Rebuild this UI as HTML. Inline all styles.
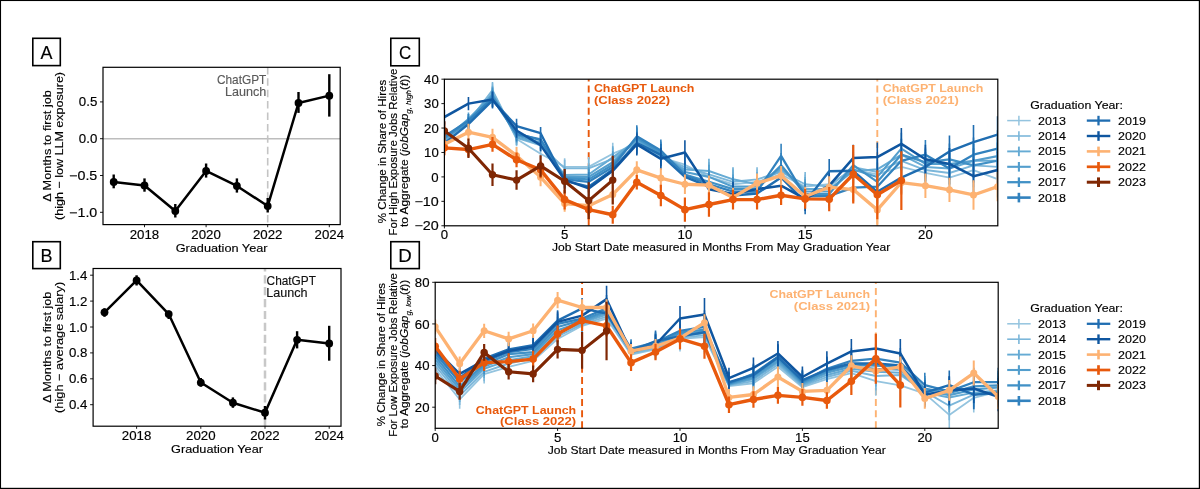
<!DOCTYPE html>
<html><head><meta charset="utf-8"><style>
html,body{margin:0;padding:0;background:#fff;width:1200px;height:489px;overflow:hidden}
svg{display:block;will-change:transform}
text{font-family:"Liberation Sans", sans-serif}
</style></head><body>
<svg width="1200" height="489" viewBox="0 0 1200 489">
<rect x="0" y="0" width="1200" height="489" fill="#fff"/>
<rect x="0" y="0" width="1200" height="1.05" fill="#000"/><rect x="0" y="0" width="1.05" height="489" fill="#000"/>
<rect x="1198.8" y="0" width="1.2" height="489" fill="#000"/><rect x="0" y="487.8" width="1200" height="1.2" fill="#000"/>
<rect x="32.80" y="38.30" width="27.50" height="27.30" fill="none" stroke="#000" stroke-width="1.6"/>
<text x="46.55" y="59.25" font-size="18.38" text-anchor="middle" fill="#000" stroke="#000" stroke-width="0.15" textLength="11.97" lengthAdjust="spacingAndGlyphs" >A</text>
<rect x="32.80" y="241.70" width="27.50" height="26.90" fill="none" stroke="#000" stroke-width="1.6"/>
<text x="46.55" y="262.45" font-size="18.38" text-anchor="middle" fill="#000" stroke="#000" stroke-width="0.15" textLength="12.01" lengthAdjust="spacingAndGlyphs" >B</text>
<rect x="390.80" y="38.30" width="28.50" height="27.50" fill="none" stroke="#000" stroke-width="1.6"/>
<text x="405.05" y="59.35" font-size="18.38" text-anchor="middle" fill="#000" stroke="#000" stroke-width="0.15" textLength="12.22" lengthAdjust="spacingAndGlyphs" >C</text>
<rect x="390.80" y="241.70" width="28.50" height="26.90" fill="none" stroke="#000" stroke-width="1.6"/>
<text x="405.05" y="262.45" font-size="18.38" text-anchor="middle" fill="#000" stroke="#000" stroke-width="0.15" textLength="13.48" lengthAdjust="spacingAndGlyphs" >D</text>
<line x1="103.00" y1="138.70" x2="340.20" y2="138.70" stroke="#bdbdbd" stroke-width="1.5" />
<line x1="267.70" y1="224.60" x2="267.70" y2="67.30" stroke="#c4c4c4" stroke-width="1.6" stroke-dasharray="7.5 3.9" stroke-dashoffset="-2"/>
<text x="266.30" y="83.90" font-size="11.97" text-anchor="end" fill="#5a5a5a" stroke="#5a5a5a" stroke-width="0.15" textLength="49.31" lengthAdjust="spacingAndGlyphs" >ChatGPT</text>
<text x="266.30" y="96.30" font-size="11.97" text-anchor="end" fill="#5a5a5a" stroke="#5a5a5a" stroke-width="0.15" textLength="41.28" lengthAdjust="spacingAndGlyphs" >Launch</text>
<line x1="113.70" y1="174.50" x2="113.70" y2="188.30" stroke="#000" stroke-width="2.4" />
<line x1="144.50" y1="178.40" x2="144.50" y2="191.70" stroke="#000" stroke-width="2.4" />
<line x1="175.30" y1="204.00" x2="175.30" y2="217.50" stroke="#000" stroke-width="2.4" />
<line x1="206.10" y1="163.50" x2="206.10" y2="177.60" stroke="#000" stroke-width="2.4" />
<line x1="236.90" y1="178.40" x2="236.90" y2="192.60" stroke="#000" stroke-width="2.4" />
<line x1="267.70" y1="198.00" x2="267.70" y2="212.50" stroke="#000" stroke-width="2.4" />
<line x1="298.50" y1="92.00" x2="298.50" y2="112.90" stroke="#000" stroke-width="2.4" />
<line x1="329.30" y1="74.20" x2="329.30" y2="116.60" stroke="#000" stroke-width="2.4" />
<polyline points="113.70,181.98 144.50,185.44 175.30,210.98 206.10,170.94 236.90,185.95 267.70,206.04 298.50,103.00 329.30,95.64" fill="none" stroke="#000" stroke-width="2.5" stroke-linejoin="round" stroke-linecap="butt" />
<circle cx="113.70" cy="181.98" r="3.9" fill="#000"/>
<circle cx="144.50" cy="185.44" r="3.9" fill="#000"/>
<circle cx="175.30" cy="210.98" r="3.9" fill="#000"/>
<circle cx="206.10" cy="170.94" r="3.9" fill="#000"/>
<circle cx="236.90" cy="185.95" r="3.9" fill="#000"/>
<circle cx="267.70" cy="206.04" r="3.9" fill="#000"/>
<circle cx="298.50" cy="103.00" r="3.9" fill="#000"/>
<circle cx="329.30" cy="95.64" r="3.9" fill="#000"/>
<rect x="103.00" y="67.30" width="237.20" height="157.30" fill="none" stroke="#000" stroke-width="1.2"/>
<line x1="100.00" y1="101.90" x2="103.00" y2="101.90" stroke="#000" stroke-width="0.9" />
<text x="97.30" y="106.40" font-size="12.18" text-anchor="end" fill="#000" stroke="#000" stroke-width="0.15" textLength="18.45" lengthAdjust="spacingAndGlyphs" >0.5</text>
<line x1="100.00" y1="138.70" x2="103.00" y2="138.70" stroke="#000" stroke-width="0.9" />
<text x="97.30" y="143.20" font-size="12.18" text-anchor="end" fill="#000" stroke="#000" stroke-width="0.15" textLength="18.45" lengthAdjust="spacingAndGlyphs" >0.0</text>
<line x1="100.00" y1="175.50" x2="103.00" y2="175.50" stroke="#000" stroke-width="0.9" />
<text x="97.30" y="180.00" font-size="12.18" text-anchor="end" fill="#000" stroke="#000" stroke-width="0.15" textLength="28.17" lengthAdjust="spacingAndGlyphs" >−0.5</text>
<line x1="100.00" y1="212.30" x2="103.00" y2="212.30" stroke="#000" stroke-width="0.9" />
<text x="97.30" y="216.80" font-size="12.18" text-anchor="end" fill="#000" stroke="#000" stroke-width="0.15" textLength="28.17" lengthAdjust="spacingAndGlyphs" >−1.0</text>
<line x1="144.50" y1="224.60" x2="144.50" y2="227.20" stroke="#000" stroke-width="0.9" />
<text x="144.50" y="238.60" font-size="12.18" text-anchor="middle" fill="#000" stroke="#000" stroke-width="0.15" textLength="29.52" lengthAdjust="spacingAndGlyphs" >2018</text>
<line x1="206.10" y1="224.60" x2="206.10" y2="227.20" stroke="#000" stroke-width="0.9" />
<text x="206.10" y="238.60" font-size="12.18" text-anchor="middle" fill="#000" stroke="#000" stroke-width="0.15" textLength="29.52" lengthAdjust="spacingAndGlyphs" >2020</text>
<line x1="267.70" y1="224.60" x2="267.70" y2="227.20" stroke="#000" stroke-width="0.9" />
<text x="267.70" y="238.60" font-size="12.18" text-anchor="middle" fill="#000" stroke="#000" stroke-width="0.15" textLength="29.52" lengthAdjust="spacingAndGlyphs" >2022</text>
<line x1="329.30" y1="224.60" x2="329.30" y2="227.20" stroke="#000" stroke-width="0.9" />
<text x="329.30" y="238.60" font-size="12.18" text-anchor="middle" fill="#000" stroke="#000" stroke-width="0.15" textLength="29.52" lengthAdjust="spacingAndGlyphs" >2024</text>
<text x="221.60" y="252.00" font-size="11.81" text-anchor="middle" fill="#000" stroke="#000" stroke-width="0.15" textLength="91.84" lengthAdjust="spacingAndGlyphs" >Graduation Year</text>
<text x="50.80" y="145.95" font-size="11.60" text-anchor="middle" fill="#000" stroke="#000" stroke-width="0.15" textLength="111.53" lengthAdjust="spacingAndGlyphs" transform="rotate(-90 50.80 145.95)" >Δ Months to first job</text>
<text x="63.30" y="145.95" font-size="11.60" text-anchor="middle" fill="#000" stroke="#000" stroke-width="0.15" textLength="147.95" lengthAdjust="spacingAndGlyphs" transform="rotate(-90 63.30 145.95)" >(high − low LLM exposure)</text>
<line x1="265.00" y1="426.20" x2="265.00" y2="268.50" stroke="#c8c8c8" stroke-width="2.5" stroke-dasharray="8.2 3.7"/>
<text x="266.60" y="284.80" font-size="11.97" text-anchor="start" fill="#111" stroke="#111" stroke-width="0.15" textLength="49.31" lengthAdjust="spacingAndGlyphs" >ChatGPT</text>
<text x="266.30" y="296.70" font-size="11.97" text-anchor="start" fill="#111" stroke="#111" stroke-width="0.15" textLength="41.28" lengthAdjust="spacingAndGlyphs" >Launch</text>
<line x1="104.50" y1="308.20" x2="104.50" y2="316.80" stroke="#000" stroke-width="2.4" />
<line x1="136.60" y1="275.30" x2="136.60" y2="285.50" stroke="#000" stroke-width="2.4" />
<line x1="168.70" y1="310.60" x2="168.70" y2="319.00" stroke="#000" stroke-width="2.4" />
<line x1="200.80" y1="378.00" x2="200.80" y2="386.70" stroke="#000" stroke-width="2.4" />
<line x1="232.90" y1="397.40" x2="232.90" y2="407.80" stroke="#000" stroke-width="2.4" />
<line x1="265.00" y1="406.00" x2="265.00" y2="419.50" stroke="#000" stroke-width="2.4" />
<line x1="297.10" y1="331.20" x2="297.10" y2="348.40" stroke="#000" stroke-width="2.4" />
<line x1="329.20" y1="325.80" x2="329.20" y2="360.70" stroke="#000" stroke-width="2.4" />
<polyline points="104.50,312.37 136.60,280.38 168.70,314.05 200.80,382.56 232.90,402.76 265.00,412.73 297.10,339.82 329.20,343.45" fill="none" stroke="#000" stroke-width="2.5" stroke-linejoin="round" stroke-linecap="butt" />
<circle cx="104.50" cy="312.37" r="3.9" fill="#000"/>
<circle cx="136.60" cy="280.38" r="3.9" fill="#000"/>
<circle cx="168.70" cy="314.05" r="3.9" fill="#000"/>
<circle cx="200.80" cy="382.56" r="3.9" fill="#000"/>
<circle cx="232.90" cy="402.76" r="3.9" fill="#000"/>
<circle cx="265.00" cy="412.73" r="3.9" fill="#000"/>
<circle cx="297.10" cy="339.82" r="3.9" fill="#000"/>
<circle cx="329.20" cy="343.45" r="3.9" fill="#000"/>
<rect x="93.10" y="268.50" width="247.90" height="157.70" fill="none" stroke="#000" stroke-width="1.2"/>
<line x1="90.10" y1="275.20" x2="93.10" y2="275.20" stroke="#000" stroke-width="0.9" />
<text x="87.40" y="279.70" font-size="12.18" text-anchor="end" fill="#000" stroke="#000" stroke-width="0.15" textLength="18.45" lengthAdjust="spacingAndGlyphs" >1.4</text>
<line x1="90.10" y1="301.10" x2="93.10" y2="301.10" stroke="#000" stroke-width="0.9" />
<text x="87.40" y="305.60" font-size="12.18" text-anchor="end" fill="#000" stroke="#000" stroke-width="0.15" textLength="18.45" lengthAdjust="spacingAndGlyphs" >1.2</text>
<line x1="90.10" y1="327.00" x2="93.10" y2="327.00" stroke="#000" stroke-width="0.9" />
<text x="87.40" y="331.50" font-size="12.18" text-anchor="end" fill="#000" stroke="#000" stroke-width="0.15" textLength="18.45" lengthAdjust="spacingAndGlyphs" >1.0</text>
<line x1="90.10" y1="352.90" x2="93.10" y2="352.90" stroke="#000" stroke-width="0.9" />
<text x="87.40" y="357.40" font-size="12.18" text-anchor="end" fill="#000" stroke="#000" stroke-width="0.15" textLength="18.45" lengthAdjust="spacingAndGlyphs" >0.8</text>
<line x1="90.10" y1="378.80" x2="93.10" y2="378.80" stroke="#000" stroke-width="0.9" />
<text x="87.40" y="383.30" font-size="12.18" text-anchor="end" fill="#000" stroke="#000" stroke-width="0.15" textLength="18.45" lengthAdjust="spacingAndGlyphs" >0.6</text>
<line x1="90.10" y1="404.70" x2="93.10" y2="404.70" stroke="#000" stroke-width="0.9" />
<text x="87.40" y="409.20" font-size="12.18" text-anchor="end" fill="#000" stroke="#000" stroke-width="0.15" textLength="18.45" lengthAdjust="spacingAndGlyphs" >0.4</text>
<line x1="136.60" y1="426.20" x2="136.60" y2="428.80" stroke="#000" stroke-width="0.9" />
<text x="136.60" y="440.20" font-size="12.18" text-anchor="middle" fill="#000" stroke="#000" stroke-width="0.15" textLength="29.52" lengthAdjust="spacingAndGlyphs" >2018</text>
<line x1="200.80" y1="426.20" x2="200.80" y2="428.80" stroke="#000" stroke-width="0.9" />
<text x="200.80" y="440.20" font-size="12.18" text-anchor="middle" fill="#000" stroke="#000" stroke-width="0.15" textLength="29.52" lengthAdjust="spacingAndGlyphs" >2020</text>
<line x1="265.00" y1="426.20" x2="265.00" y2="428.80" stroke="#000" stroke-width="0.9" />
<text x="265.00" y="440.20" font-size="12.18" text-anchor="middle" fill="#000" stroke="#000" stroke-width="0.15" textLength="29.52" lengthAdjust="spacingAndGlyphs" >2022</text>
<line x1="329.20" y1="426.20" x2="329.20" y2="428.80" stroke="#000" stroke-width="0.9" />
<text x="329.20" y="440.20" font-size="12.18" text-anchor="middle" fill="#000" stroke="#000" stroke-width="0.15" textLength="29.52" lengthAdjust="spacingAndGlyphs" >2024</text>
<text x="217.05" y="453.20" font-size="11.81" text-anchor="middle" fill="#000" stroke="#000" stroke-width="0.15" textLength="91.84" lengthAdjust="spacingAndGlyphs" >Graduation Year</text>
<text x="50.80" y="347.35" font-size="11.60" text-anchor="middle" fill="#000" stroke="#000" stroke-width="0.15" textLength="111.53" lengthAdjust="spacingAndGlyphs" transform="rotate(-90 50.80 347.35)" >Δ Months to first job</text>
<text x="63.30" y="347.35" font-size="11.60" text-anchor="middle" fill="#000" stroke="#000" stroke-width="0.15" textLength="131.20" lengthAdjust="spacingAndGlyphs" transform="rotate(-90 63.30 347.35)" >(high − average salary)</text>
<defs><clipPath id="clipC"><rect x="444.4" y="79.2" width="553.4" height="146.60000000000002"/></clipPath><clipPath id="clipD"><rect x="435.2" y="282.3" width="563.0" height="146.0"/></clipPath></defs>
<line x1="588.70" y1="225.80" x2="588.70" y2="79.20" stroke="#e8590c" stroke-width="1.9" stroke-dasharray="7 4.1"/>
<line x1="877.30" y1="225.80" x2="877.30" y2="79.20" stroke="#fdb272" stroke-width="1.9" stroke-dasharray="7 4.1"/>
<g clip-path="url(#clipC)">
<line x1="444.40" y1="135.37" x2="444.40" y2="150.03" stroke="#94c4df" stroke-width="1.6" />
<line x1="468.45" y1="116.56" x2="468.45" y2="129.75" stroke="#94c4df" stroke-width="1.6" />
<line x1="492.50" y1="83.33" x2="492.50" y2="99.46" stroke="#94c4df" stroke-width="1.6" />
<line x1="516.55" y1="131.70" x2="516.55" y2="146.36" stroke="#94c4df" stroke-width="1.6" />
<line x1="540.60" y1="147.58" x2="540.60" y2="159.80" stroke="#94c4df" stroke-width="1.6" />
<line x1="564.65" y1="158.33" x2="564.65" y2="175.43" stroke="#94c4df" stroke-width="1.6" />
<line x1="588.70" y1="157.11" x2="588.70" y2="176.66" stroke="#94c4df" stroke-width="1.6" />
<line x1="612.75" y1="142.70" x2="612.75" y2="164.69" stroke="#94c4df" stroke-width="1.6" />
<line x1="636.80" y1="132.93" x2="636.80" y2="154.91" stroke="#94c4df" stroke-width="1.6" />
<line x1="660.85" y1="146.36" x2="660.85" y2="168.35" stroke="#94c4df" stroke-width="1.6" />
<line x1="684.90" y1="152.47" x2="684.90" y2="176.90" stroke="#94c4df" stroke-width="1.6" />
<line x1="708.95" y1="164.69" x2="708.95" y2="189.12" stroke="#94c4df" stroke-width="1.6" />
<line x1="733.00" y1="172.01" x2="733.00" y2="196.44" stroke="#94c4df" stroke-width="1.6" />
<line x1="757.05" y1="169.57" x2="757.05" y2="194.00" stroke="#94c4df" stroke-width="1.6" />
<line x1="781.10" y1="162.24" x2="781.10" y2="186.67" stroke="#94c4df" stroke-width="1.6" />
<line x1="805.15" y1="174.46" x2="805.15" y2="198.89" stroke="#94c4df" stroke-width="1.6" />
<line x1="829.20" y1="172.01" x2="829.20" y2="196.44" stroke="#94c4df" stroke-width="1.6" />
<line x1="853.25" y1="156.13" x2="853.25" y2="183.01" stroke="#94c4df" stroke-width="1.6" />
<line x1="877.30" y1="159.80" x2="877.30" y2="189.12" stroke="#94c4df" stroke-width="1.6" />
<line x1="901.35" y1="151.00" x2="901.35" y2="182.76" stroke="#94c4df" stroke-width="1.6" />
<line x1="925.40" y1="158.33" x2="925.40" y2="187.65" stroke="#94c4df" stroke-width="1.6" />
<line x1="949.45" y1="161.75" x2="949.45" y2="193.51" stroke="#94c4df" stroke-width="1.6" />
<line x1="973.50" y1="152.96" x2="973.50" y2="187.16" stroke="#94c4df" stroke-width="1.6" />
<line x1="997.55" y1="160.78" x2="997.55" y2="197.42" stroke="#94c4df" stroke-width="1.6" />
<polyline points="444.40,142.70 468.45,123.15 492.50,91.40 516.55,139.03 540.60,153.69 564.65,166.88 588.70,166.88 612.75,153.69 636.80,143.92 660.85,157.36 684.90,164.69 708.95,176.90 733.00,184.23 757.05,181.79 781.10,174.46 805.15,186.67 829.20,184.23 853.25,169.57 877.30,174.46 901.35,166.88 925.40,172.99 949.45,177.63 973.50,170.06 997.55,179.10" fill="none" stroke="#94c4df" stroke-width="1.8" stroke-linejoin="round" stroke-linecap="butt" />
<line x1="444.40" y1="132.93" x2="444.40" y2="147.58" stroke="#7cb7da" stroke-width="1.6" />
<line x1="468.45" y1="115.34" x2="468.45" y2="128.53" stroke="#7cb7da" stroke-width="1.6" />
<line x1="492.50" y1="82.11" x2="492.50" y2="98.24" stroke="#7cb7da" stroke-width="1.6" />
<line x1="516.55" y1="130.48" x2="516.55" y2="145.14" stroke="#7cb7da" stroke-width="1.6" />
<line x1="540.60" y1="139.28" x2="540.60" y2="151.49" stroke="#7cb7da" stroke-width="1.6" />
<line x1="564.65" y1="159.80" x2="564.65" y2="176.90" stroke="#7cb7da" stroke-width="1.6" />
<line x1="588.70" y1="158.58" x2="588.70" y2="178.12" stroke="#7cb7da" stroke-width="1.6" />
<line x1="612.75" y1="147.83" x2="612.75" y2="169.82" stroke="#7cb7da" stroke-width="1.6" />
<line x1="636.80" y1="131.70" x2="636.80" y2="153.69" stroke="#7cb7da" stroke-width="1.6" />
<line x1="660.85" y1="145.14" x2="660.85" y2="167.13" stroke="#7cb7da" stroke-width="1.6" />
<line x1="684.90" y1="154.91" x2="684.90" y2="179.34" stroke="#7cb7da" stroke-width="1.6" />
<line x1="708.95" y1="162.24" x2="708.95" y2="186.67" stroke="#7cb7da" stroke-width="1.6" />
<line x1="733.00" y1="169.57" x2="733.00" y2="194.00" stroke="#7cb7da" stroke-width="1.6" />
<line x1="757.05" y1="167.13" x2="757.05" y2="191.56" stroke="#7cb7da" stroke-width="1.6" />
<line x1="781.10" y1="159.80" x2="781.10" y2="184.23" stroke="#7cb7da" stroke-width="1.6" />
<line x1="805.15" y1="172.01" x2="805.15" y2="196.44" stroke="#7cb7da" stroke-width="1.6" />
<line x1="829.20" y1="174.46" x2="829.20" y2="198.89" stroke="#7cb7da" stroke-width="1.6" />
<line x1="853.25" y1="153.69" x2="853.25" y2="180.56" stroke="#7cb7da" stroke-width="1.6" />
<line x1="877.30" y1="157.36" x2="877.30" y2="186.67" stroke="#7cb7da" stroke-width="1.6" />
<line x1="901.35" y1="144.90" x2="901.35" y2="176.66" stroke="#7cb7da" stroke-width="1.6" />
<line x1="925.40" y1="155.40" x2="925.40" y2="184.72" stroke="#7cb7da" stroke-width="1.6" />
<line x1="949.45" y1="157.11" x2="949.45" y2="188.87" stroke="#7cb7da" stroke-width="1.6" />
<line x1="973.50" y1="148.32" x2="973.50" y2="182.52" stroke="#7cb7da" stroke-width="1.6" />
<line x1="997.55" y1="148.56" x2="997.55" y2="185.21" stroke="#7cb7da" stroke-width="1.6" />
<polyline points="444.40,140.25 468.45,121.93 492.50,90.17 516.55,137.81 540.60,145.39 564.65,168.35 588.70,168.35 612.75,158.82 636.80,142.70 660.85,156.13 684.90,167.13 708.95,174.46 733.00,181.79 757.05,179.34 781.10,172.01 805.15,184.23 829.20,186.67 853.25,167.13 877.30,172.01 901.35,160.78 925.40,170.06 949.45,172.99 973.50,165.42 997.55,166.88" fill="none" stroke="#7cb7da" stroke-width="1.9" stroke-linejoin="round" stroke-linecap="butt" />
<line x1="444.40" y1="134.15" x2="444.40" y2="148.81" stroke="#66abd4" stroke-width="1.6" />
<line x1="468.45" y1="114.11" x2="468.45" y2="127.31" stroke="#66abd4" stroke-width="1.6" />
<line x1="492.50" y1="85.78" x2="492.50" y2="101.90" stroke="#66abd4" stroke-width="1.6" />
<line x1="516.55" y1="129.99" x2="516.55" y2="144.65" stroke="#66abd4" stroke-width="1.6" />
<line x1="540.60" y1="137.81" x2="540.60" y2="150.03" stroke="#66abd4" stroke-width="1.6" />
<line x1="564.65" y1="166.40" x2="564.65" y2="183.50" stroke="#66abd4" stroke-width="1.6" />
<line x1="588.70" y1="164.69" x2="588.70" y2="184.23" stroke="#66abd4" stroke-width="1.6" />
<line x1="612.75" y1="146.36" x2="612.75" y2="168.35" stroke="#66abd4" stroke-width="1.6" />
<line x1="636.80" y1="129.26" x2="636.80" y2="151.25" stroke="#66abd4" stroke-width="1.6" />
<line x1="660.85" y1="143.92" x2="660.85" y2="165.91" stroke="#66abd4" stroke-width="1.6" />
<line x1="684.90" y1="157.36" x2="684.90" y2="181.79" stroke="#66abd4" stroke-width="1.6" />
<line x1="708.95" y1="158.82" x2="708.95" y2="183.25" stroke="#66abd4" stroke-width="1.6" />
<line x1="733.00" y1="167.13" x2="733.00" y2="191.56" stroke="#66abd4" stroke-width="1.6" />
<line x1="757.05" y1="172.01" x2="757.05" y2="196.44" stroke="#66abd4" stroke-width="1.6" />
<line x1="781.10" y1="157.36" x2="781.10" y2="181.79" stroke="#66abd4" stroke-width="1.6" />
<line x1="805.15" y1="176.90" x2="805.15" y2="201.33" stroke="#66abd4" stroke-width="1.6" />
<line x1="829.20" y1="176.90" x2="829.20" y2="201.33" stroke="#66abd4" stroke-width="1.6" />
<line x1="853.25" y1="157.84" x2="853.25" y2="184.72" stroke="#66abd4" stroke-width="1.6" />
<line x1="877.30" y1="154.67" x2="877.30" y2="183.98" stroke="#66abd4" stroke-width="1.6" />
<line x1="901.35" y1="138.79" x2="901.35" y2="170.55" stroke="#66abd4" stroke-width="1.6" />
<line x1="925.40" y1="152.23" x2="925.40" y2="181.54" stroke="#66abd4" stroke-width="1.6" />
<line x1="949.45" y1="152.71" x2="949.45" y2="184.47" stroke="#66abd4" stroke-width="1.6" />
<line x1="973.50" y1="143.68" x2="973.50" y2="177.88" stroke="#66abd4" stroke-width="1.6" />
<line x1="997.55" y1="142.45" x2="997.55" y2="179.10" stroke="#66abd4" stroke-width="1.6" />
<polyline points="444.40,141.48 468.45,120.71 492.50,93.84 516.55,137.32 540.60,143.92 564.65,174.95 588.70,174.46 612.75,157.36 636.80,140.25 660.85,154.91 684.90,169.57 708.95,171.04 733.00,179.34 757.05,184.23 781.10,169.57 805.15,189.12 829.20,189.12 853.25,171.28 877.30,169.33 901.35,154.67 925.40,166.88 949.45,168.59 973.50,160.78 997.55,160.78" fill="none" stroke="#66abd4" stroke-width="2.0" stroke-linejoin="round" stroke-linecap="butt" />
<line x1="444.40" y1="131.70" x2="444.40" y2="146.36" stroke="#539ecd" stroke-width="1.6" />
<line x1="468.45" y1="112.40" x2="468.45" y2="125.60" stroke="#539ecd" stroke-width="1.6" />
<line x1="492.50" y1="87.00" x2="492.50" y2="103.12" stroke="#539ecd" stroke-width="1.6" />
<line x1="516.55" y1="128.04" x2="516.55" y2="142.70" stroke="#539ecd" stroke-width="1.6" />
<line x1="540.60" y1="136.59" x2="540.60" y2="148.81" stroke="#539ecd" stroke-width="1.6" />
<line x1="564.65" y1="168.35" x2="564.65" y2="185.45" stroke="#539ecd" stroke-width="1.6" />
<line x1="588.70" y1="167.13" x2="588.70" y2="186.67" stroke="#539ecd" stroke-width="1.6" />
<line x1="612.75" y1="151.25" x2="612.75" y2="173.24" stroke="#539ecd" stroke-width="1.6" />
<line x1="636.80" y1="128.04" x2="636.80" y2="150.03" stroke="#539ecd" stroke-width="1.6" />
<line x1="660.85" y1="142.70" x2="660.85" y2="164.69" stroke="#539ecd" stroke-width="1.6" />
<line x1="684.90" y1="159.80" x2="684.90" y2="184.23" stroke="#539ecd" stroke-width="1.6" />
<line x1="708.95" y1="164.69" x2="708.95" y2="189.12" stroke="#539ecd" stroke-width="1.6" />
<line x1="733.00" y1="174.46" x2="733.00" y2="198.89" stroke="#539ecd" stroke-width="1.6" />
<line x1="757.05" y1="174.46" x2="757.05" y2="198.89" stroke="#539ecd" stroke-width="1.6" />
<line x1="781.10" y1="154.91" x2="781.10" y2="179.34" stroke="#539ecd" stroke-width="1.6" />
<line x1="805.15" y1="179.34" x2="805.15" y2="203.77" stroke="#539ecd" stroke-width="1.6" />
<line x1="829.20" y1="179.34" x2="829.20" y2="203.77" stroke="#539ecd" stroke-width="1.6" />
<line x1="853.25" y1="156.13" x2="853.25" y2="183.01" stroke="#539ecd" stroke-width="1.6" />
<line x1="877.30" y1="162.24" x2="877.30" y2="191.56" stroke="#539ecd" stroke-width="1.6" />
<line x1="901.35" y1="132.68" x2="901.35" y2="164.44" stroke="#539ecd" stroke-width="1.6" />
<line x1="925.40" y1="149.29" x2="925.40" y2="178.61" stroke="#539ecd" stroke-width="1.6" />
<line x1="949.45" y1="148.07" x2="949.45" y2="179.83" stroke="#539ecd" stroke-width="1.6" />
<line x1="973.50" y1="143.68" x2="973.50" y2="177.88" stroke="#539ecd" stroke-width="1.6" />
<line x1="997.55" y1="137.81" x2="997.55" y2="174.46" stroke="#539ecd" stroke-width="1.6" />
<polyline points="444.40,139.03 468.45,119.00 492.50,95.06 516.55,135.37 540.60,142.70 564.65,176.90 588.70,176.90 612.75,162.24 636.80,139.03 660.85,153.69 684.90,172.01 708.95,176.90 733.00,186.67 757.05,186.67 781.10,167.13 805.15,191.56 829.20,191.56 853.25,169.57 877.30,176.90 901.35,148.56 925.40,163.95 949.45,163.95 973.50,160.78 997.55,156.13" fill="none" stroke="#539ecd" stroke-width="2.1" stroke-linejoin="round" stroke-linecap="butt" />
<line x1="444.40" y1="130.48" x2="444.40" y2="145.14" stroke="#4191c6" stroke-width="1.6" />
<line x1="468.45" y1="116.56" x2="468.45" y2="129.75" stroke="#4191c6" stroke-width="1.6" />
<line x1="492.50" y1="88.22" x2="492.50" y2="104.34" stroke="#4191c6" stroke-width="1.6" />
<line x1="516.55" y1="125.84" x2="516.55" y2="140.50" stroke="#4191c6" stroke-width="1.6" />
<line x1="540.60" y1="134.15" x2="540.60" y2="146.36" stroke="#4191c6" stroke-width="1.6" />
<line x1="564.65" y1="169.57" x2="564.65" y2="186.67" stroke="#4191c6" stroke-width="1.6" />
<line x1="588.70" y1="169.57" x2="588.70" y2="189.12" stroke="#4191c6" stroke-width="1.6" />
<line x1="612.75" y1="153.69" x2="612.75" y2="175.68" stroke="#4191c6" stroke-width="1.6" />
<line x1="636.80" y1="126.82" x2="636.80" y2="148.81" stroke="#4191c6" stroke-width="1.6" />
<line x1="660.85" y1="141.48" x2="660.85" y2="163.46" stroke="#4191c6" stroke-width="1.6" />
<line x1="684.90" y1="162.24" x2="684.90" y2="186.67" stroke="#4191c6" stroke-width="1.6" />
<line x1="708.95" y1="169.57" x2="708.95" y2="194.00" stroke="#4191c6" stroke-width="1.6" />
<line x1="733.00" y1="176.90" x2="733.00" y2="201.33" stroke="#4191c6" stroke-width="1.6" />
<line x1="757.05" y1="176.90" x2="757.05" y2="201.33" stroke="#4191c6" stroke-width="1.6" />
<line x1="781.10" y1="152.96" x2="781.10" y2="177.39" stroke="#4191c6" stroke-width="1.6" />
<line x1="805.15" y1="181.79" x2="805.15" y2="206.22" stroke="#4191c6" stroke-width="1.6" />
<line x1="829.20" y1="181.79" x2="829.20" y2="206.22" stroke="#4191c6" stroke-width="1.6" />
<line x1="853.25" y1="151.74" x2="853.25" y2="178.61" stroke="#4191c6" stroke-width="1.6" />
<line x1="877.30" y1="167.13" x2="877.30" y2="196.44" stroke="#4191c6" stroke-width="1.6" />
<line x1="901.35" y1="138.79" x2="901.35" y2="170.55" stroke="#4191c6" stroke-width="1.6" />
<line x1="925.40" y1="147.58" x2="925.40" y2="176.90" stroke="#4191c6" stroke-width="1.6" />
<line x1="949.45" y1="143.43" x2="949.45" y2="175.19" stroke="#4191c6" stroke-width="1.6" />
<line x1="973.50" y1="148.32" x2="973.50" y2="182.52" stroke="#4191c6" stroke-width="1.6" />
<line x1="997.55" y1="142.45" x2="997.55" y2="179.10" stroke="#4191c6" stroke-width="1.6" />
<polyline points="444.40,137.81 468.45,123.15 492.50,96.28 516.55,133.17 540.60,140.25 564.65,178.12 588.70,179.34 612.75,164.69 636.80,137.81 660.85,152.47 684.90,174.46 708.95,181.79 733.00,189.12 757.05,189.12 781.10,165.17 805.15,194.00 829.20,194.00 853.25,165.17 877.30,181.79 901.35,154.67 925.40,162.24 949.45,159.31 973.50,165.42 997.55,160.78" fill="none" stroke="#4191c6" stroke-width="2.2" stroke-linejoin="round" stroke-linecap="butt" />
<line x1="444.40" y1="129.02" x2="444.40" y2="143.68" stroke="#3282be" stroke-width="1.6" />
<line x1="468.45" y1="114.11" x2="468.45" y2="127.31" stroke="#3282be" stroke-width="1.6" />
<line x1="492.50" y1="90.66" x2="492.50" y2="106.79" stroke="#3282be" stroke-width="1.6" />
<line x1="516.55" y1="126.82" x2="516.55" y2="141.48" stroke="#3282be" stroke-width="1.6" />
<line x1="540.60" y1="133.17" x2="540.60" y2="145.39" stroke="#3282be" stroke-width="1.6" />
<line x1="564.65" y1="170.79" x2="564.65" y2="187.89" stroke="#3282be" stroke-width="1.6" />
<line x1="588.70" y1="172.01" x2="588.70" y2="191.56" stroke="#3282be" stroke-width="1.6" />
<line x1="612.75" y1="156.13" x2="612.75" y2="178.12" stroke="#3282be" stroke-width="1.6" />
<line x1="636.80" y1="125.35" x2="636.80" y2="147.34" stroke="#3282be" stroke-width="1.6" />
<line x1="660.85" y1="139.52" x2="660.85" y2="161.51" stroke="#3282be" stroke-width="1.6" />
<line x1="684.90" y1="162.73" x2="684.90" y2="187.16" stroke="#3282be" stroke-width="1.6" />
<line x1="708.95" y1="172.01" x2="708.95" y2="196.44" stroke="#3282be" stroke-width="1.6" />
<line x1="733.00" y1="179.34" x2="733.00" y2="203.77" stroke="#3282be" stroke-width="1.6" />
<line x1="757.05" y1="179.34" x2="757.05" y2="203.77" stroke="#3282be" stroke-width="1.6" />
<line x1="781.10" y1="143.68" x2="781.10" y2="168.11" stroke="#3282be" stroke-width="1.6" />
<line x1="805.15" y1="184.23" x2="805.15" y2="208.66" stroke="#3282be" stroke-width="1.6" />
<line x1="829.20" y1="183.74" x2="829.20" y2="208.17" stroke="#3282be" stroke-width="1.6" />
<line x1="853.25" y1="174.21" x2="853.25" y2="201.09" stroke="#3282be" stroke-width="1.6" />
<line x1="877.30" y1="172.01" x2="877.30" y2="201.33" stroke="#3282be" stroke-width="1.6" />
<line x1="901.35" y1="144.90" x2="901.35" y2="176.66" stroke="#3282be" stroke-width="1.6" />
<line x1="925.40" y1="140.01" x2="925.40" y2="169.33" stroke="#3282be" stroke-width="1.6" />
<line x1="949.45" y1="152.71" x2="949.45" y2="184.47" stroke="#3282be" stroke-width="1.6" />
<line x1="973.50" y1="137.57" x2="973.50" y2="171.77" stroke="#3282be" stroke-width="1.6" />
<line x1="997.55" y1="130.24" x2="997.55" y2="166.88" stroke="#3282be" stroke-width="1.6" />
<polyline points="444.40,136.35 468.45,120.71 492.50,98.72 516.55,134.15 540.60,139.28 564.65,179.34 588.70,181.79 612.75,167.13 636.80,136.35 660.85,150.52 684.90,174.95 708.95,184.23 733.00,191.56 757.05,191.56 781.10,155.89 805.15,196.44 829.20,195.96 853.25,187.65 877.30,186.67 901.35,160.78 925.40,154.67 949.45,168.59 973.50,154.67 997.55,148.56" fill="none" stroke="#3282be" stroke-width="2.3" stroke-linejoin="round" stroke-linecap="butt" />
<line x1="444.40" y1="136.10" x2="444.40" y2="150.76" stroke="#1f6db1" stroke-width="1.6" />
<line x1="468.45" y1="117.54" x2="468.45" y2="130.73" stroke="#1f6db1" stroke-width="1.6" />
<line x1="492.50" y1="92.37" x2="492.50" y2="108.50" stroke="#1f6db1" stroke-width="1.6" />
<line x1="516.55" y1="118.76" x2="516.55" y2="133.41" stroke="#1f6db1" stroke-width="1.6" />
<line x1="540.60" y1="127.06" x2="540.60" y2="139.28" stroke="#1f6db1" stroke-width="1.6" />
<line x1="564.65" y1="172.01" x2="564.65" y2="189.12" stroke="#1f6db1" stroke-width="1.6" />
<line x1="588.70" y1="176.90" x2="588.70" y2="196.44" stroke="#1f6db1" stroke-width="1.6" />
<line x1="612.75" y1="158.58" x2="612.75" y2="180.56" stroke="#1f6db1" stroke-width="1.6" />
<line x1="636.80" y1="131.70" x2="636.80" y2="153.69" stroke="#1f6db1" stroke-width="1.6" />
<line x1="660.85" y1="143.92" x2="660.85" y2="165.91" stroke="#1f6db1" stroke-width="1.6" />
<line x1="684.90" y1="164.69" x2="684.90" y2="189.12" stroke="#1f6db1" stroke-width="1.6" />
<line x1="708.95" y1="174.46" x2="708.95" y2="198.89" stroke="#1f6db1" stroke-width="1.6" />
<line x1="733.00" y1="183.25" x2="733.00" y2="207.68" stroke="#1f6db1" stroke-width="1.6" />
<line x1="757.05" y1="181.30" x2="757.05" y2="205.73" stroke="#1f6db1" stroke-width="1.6" />
<line x1="781.10" y1="165.17" x2="781.10" y2="189.60" stroke="#1f6db1" stroke-width="1.6" />
<line x1="805.15" y1="189.85" x2="805.15" y2="214.28" stroke="#1f6db1" stroke-width="1.6" />
<line x1="829.20" y1="159.07" x2="829.20" y2="183.50" stroke="#1f6db1" stroke-width="1.6" />
<line x1="853.25" y1="157.36" x2="853.25" y2="184.23" stroke="#1f6db1" stroke-width="1.6" />
<line x1="877.30" y1="177.14" x2="877.30" y2="206.46" stroke="#1f6db1" stroke-width="1.6" />
<line x1="901.35" y1="161.75" x2="901.35" y2="193.51" stroke="#1f6db1" stroke-width="1.6" />
<line x1="925.40" y1="152.23" x2="925.40" y2="181.54" stroke="#1f6db1" stroke-width="1.6" />
<line x1="949.45" y1="135.61" x2="949.45" y2="167.37" stroke="#1f6db1" stroke-width="1.6" />
<line x1="973.50" y1="125.11" x2="973.50" y2="159.31" stroke="#1f6db1" stroke-width="1.6" />
<line x1="997.55" y1="116.31" x2="997.55" y2="152.96" stroke="#1f6db1" stroke-width="1.6" />
<polyline points="444.40,143.43 468.45,124.13 492.50,100.43 516.55,126.09 540.60,133.17 564.65,180.56 588.70,186.67 612.75,169.57 636.80,142.70 660.85,154.91 684.90,176.90 708.95,186.67 733.00,195.47 757.05,193.51 781.10,177.39 805.15,202.06 829.20,171.28 853.25,170.79 877.30,191.80 901.35,177.63 925.40,166.88 949.45,151.49 973.50,142.21 997.55,134.64" fill="none" stroke="#1f6db1" stroke-width="2.4" stroke-linejoin="round" stroke-linecap="butt" />
<line x1="444.40" y1="109.72" x2="444.40" y2="124.38" stroke="#0f56a0" stroke-width="1.6" />
<line x1="468.45" y1="97.01" x2="468.45" y2="110.21" stroke="#0f56a0" stroke-width="1.6" />
<line x1="492.50" y1="91.40" x2="492.50" y2="107.52" stroke="#0f56a0" stroke-width="1.6" />
<line x1="516.55" y1="123.15" x2="516.55" y2="137.81" stroke="#0f56a0" stroke-width="1.6" />
<line x1="540.60" y1="139.03" x2="540.60" y2="151.25" stroke="#0f56a0" stroke-width="1.6" />
<line x1="564.65" y1="171.28" x2="564.65" y2="188.38" stroke="#0f56a0" stroke-width="1.6" />
<line x1="588.70" y1="178.61" x2="588.70" y2="198.15" stroke="#0f56a0" stroke-width="1.6" />
<line x1="612.75" y1="159.80" x2="612.75" y2="181.79" stroke="#0f56a0" stroke-width="1.6" />
<line x1="636.80" y1="133.41" x2="636.80" y2="155.40" stroke="#0f56a0" stroke-width="1.6" />
<line x1="660.85" y1="147.83" x2="660.85" y2="169.82" stroke="#0f56a0" stroke-width="1.6" />
<line x1="684.90" y1="140.25" x2="684.90" y2="164.69" stroke="#0f56a0" stroke-width="1.6" />
<line x1="708.95" y1="177.14" x2="708.95" y2="201.57" stroke="#0f56a0" stroke-width="1.6" />
<line x1="733.00" y1="181.79" x2="733.00" y2="206.22" stroke="#0f56a0" stroke-width="1.6" />
<line x1="757.05" y1="176.90" x2="757.05" y2="201.33" stroke="#0f56a0" stroke-width="1.6" />
<line x1="781.10" y1="173.48" x2="781.10" y2="197.91" stroke="#0f56a0" stroke-width="1.6" />
<line x1="805.15" y1="186.67" x2="805.15" y2="211.10" stroke="#0f56a0" stroke-width="1.6" />
<line x1="829.20" y1="173.48" x2="829.20" y2="197.91" stroke="#0f56a0" stroke-width="1.6" />
<line x1="853.25" y1="144.65" x2="853.25" y2="171.53" stroke="#0f56a0" stroke-width="1.6" />
<line x1="877.30" y1="142.45" x2="877.30" y2="171.77" stroke="#0f56a0" stroke-width="1.6" />
<line x1="901.35" y1="128.04" x2="901.35" y2="159.80" stroke="#0f56a0" stroke-width="1.6" />
<line x1="925.40" y1="144.65" x2="925.40" y2="173.97" stroke="#0f56a0" stroke-width="1.6" />
<line x1="949.45" y1="148.07" x2="949.45" y2="179.83" stroke="#0f56a0" stroke-width="1.6" />
<line x1="973.50" y1="159.07" x2="973.50" y2="193.27" stroke="#0f56a0" stroke-width="1.6" />
<line x1="997.55" y1="151.74" x2="997.55" y2="188.38" stroke="#0f56a0" stroke-width="1.6" />
<polyline points="444.40,117.05 468.45,103.61 492.50,99.46 516.55,130.48 540.60,145.14 564.65,179.83 588.70,188.38 612.75,170.79 636.80,144.41 660.85,158.82 684.90,152.47 708.95,189.36 733.00,194.00 757.05,189.12 781.10,185.69 805.15,198.89 829.20,185.69 853.25,158.09 877.30,157.11 901.35,143.92 925.40,159.31 949.45,163.95 973.50,176.17 997.55,170.06" fill="none" stroke="#0f56a0" stroke-width="2.5" stroke-linejoin="round" stroke-linecap="butt" />
<line x1="444.40" y1="135.61" x2="444.40" y2="152.71" stroke="#fdb272" stroke-width="2.0" />
<line x1="468.45" y1="123.64" x2="468.45" y2="140.74" stroke="#fdb272" stroke-width="2.0" />
<line x1="492.50" y1="128.77" x2="492.50" y2="145.87" stroke="#fdb272" stroke-width="2.0" />
<line x1="516.55" y1="147.10" x2="516.55" y2="164.20" stroke="#fdb272" stroke-width="2.0" />
<line x1="540.60" y1="168.11" x2="540.60" y2="186.18" stroke="#fdb272" stroke-width="2.0" />
<line x1="564.65" y1="195.22" x2="564.65" y2="211.83" stroke="#fdb272" stroke-width="2.0" />
<line x1="588.70" y1="195.96" x2="588.70" y2="215.50" stroke="#fdb272" stroke-width="2.0" />
<line x1="612.75" y1="184.72" x2="612.75" y2="204.26" stroke="#fdb272" stroke-width="2.0" />
<line x1="636.80" y1="161.26" x2="636.80" y2="178.37" stroke="#fdb272" stroke-width="2.0" />
<line x1="660.85" y1="168.35" x2="660.85" y2="187.89" stroke="#fdb272" stroke-width="2.0" />
<line x1="684.90" y1="174.46" x2="684.90" y2="194.00" stroke="#fdb272" stroke-width="2.0" />
<line x1="708.95" y1="175.43" x2="708.95" y2="194.98" stroke="#fdb272" stroke-width="2.0" />
<line x1="733.00" y1="187.65" x2="733.00" y2="207.19" stroke="#fdb272" stroke-width="2.0" />
<line x1="757.05" y1="173.48" x2="757.05" y2="193.02" stroke="#fdb272" stroke-width="2.0" />
<line x1="781.10" y1="165.91" x2="781.10" y2="185.45" stroke="#fdb272" stroke-width="2.0" />
<line x1="805.15" y1="186.67" x2="805.15" y2="206.22" stroke="#fdb272" stroke-width="2.0" />
<line x1="829.20" y1="176.17" x2="829.20" y2="198.15" stroke="#fdb272" stroke-width="2.0" />
<line x1="853.25" y1="177.39" x2="853.25" y2="201.82" stroke="#fdb272" stroke-width="2.0" />
<line x1="877.30" y1="195.22" x2="877.30" y2="224.54" stroke="#fdb272" stroke-width="2.0" />
<line x1="901.35" y1="170.30" x2="901.35" y2="194.73" stroke="#fdb272" stroke-width="2.0" />
<line x1="925.40" y1="173.48" x2="925.40" y2="197.91" stroke="#fdb272" stroke-width="2.0" />
<line x1="949.45" y1="177.63" x2="949.45" y2="202.06" stroke="#fdb272" stroke-width="2.0" />
<line x1="973.50" y1="180.32" x2="973.50" y2="209.64" stroke="#fdb272" stroke-width="2.0" />
<line x1="997.55" y1="172.01" x2="997.55" y2="201.33" stroke="#fdb272" stroke-width="2.0" />
<polyline points="444.40,144.16 468.45,132.19 492.50,137.32 516.55,155.65 540.60,177.14 564.65,203.53 588.70,205.73 612.75,194.49 636.80,169.82 660.85,178.12 684.90,184.23 708.95,185.21 733.00,197.42 757.05,183.25 781.10,175.68 805.15,196.44 829.20,187.16 853.25,189.60 877.30,209.88 901.35,182.52 925.40,185.69 949.45,189.85 973.50,194.98 997.55,186.67" fill="none" stroke="#fdb272" stroke-width="3.3" stroke-linejoin="round" stroke-linecap="butt" />
<circle cx="444.40" cy="144.16" r="3.5" fill="#fdb272"/>
<circle cx="468.45" cy="132.19" r="3.5" fill="#fdb272"/>
<circle cx="492.50" cy="137.32" r="3.5" fill="#fdb272"/>
<circle cx="516.55" cy="155.65" r="3.5" fill="#fdb272"/>
<circle cx="540.60" cy="177.14" r="3.5" fill="#fdb272"/>
<circle cx="564.65" cy="203.53" r="3.5" fill="#fdb272"/>
<circle cx="588.70" cy="205.73" r="3.5" fill="#fdb272"/>
<circle cx="612.75" cy="194.49" r="3.5" fill="#fdb272"/>
<circle cx="636.80" cy="169.82" r="3.5" fill="#fdb272"/>
<circle cx="660.85" cy="178.12" r="3.5" fill="#fdb272"/>
<circle cx="684.90" cy="184.23" r="3.5" fill="#fdb272"/>
<circle cx="708.95" cy="185.21" r="3.5" fill="#fdb272"/>
<circle cx="733.00" cy="197.42" r="3.5" fill="#fdb272"/>
<circle cx="757.05" cy="183.25" r="3.5" fill="#fdb272"/>
<circle cx="781.10" cy="175.68" r="3.5" fill="#fdb272"/>
<circle cx="805.15" cy="196.44" r="3.5" fill="#fdb272"/>
<circle cx="829.20" cy="187.16" r="3.5" fill="#fdb272"/>
<circle cx="853.25" cy="189.60" r="3.5" fill="#fdb272"/>
<circle cx="877.30" cy="209.88" r="3.5" fill="#fdb272"/>
<circle cx="901.35" cy="182.52" r="3.5" fill="#fdb272"/>
<circle cx="925.40" cy="185.69" r="3.5" fill="#fdb272"/>
<circle cx="949.45" cy="189.85" r="3.5" fill="#fdb272"/>
<circle cx="973.50" cy="194.98" r="3.5" fill="#fdb272"/>
<circle cx="997.55" cy="186.67" r="3.5" fill="#fdb272"/>
<line x1="444.40" y1="140.50" x2="444.40" y2="155.16" stroke="#e8590c" stroke-width="2.2" />
<line x1="468.45" y1="142.21" x2="468.45" y2="156.87" stroke="#e8590c" stroke-width="2.2" />
<line x1="492.50" y1="137.08" x2="492.50" y2="151.74" stroke="#e8590c" stroke-width="2.2" />
<line x1="516.55" y1="152.47" x2="516.55" y2="167.13" stroke="#e8590c" stroke-width="2.2" />
<line x1="540.60" y1="161.26" x2="540.60" y2="178.37" stroke="#e8590c" stroke-width="2.2" />
<line x1="564.65" y1="189.85" x2="564.65" y2="209.39" stroke="#e8590c" stroke-width="2.2" />
<line x1="588.70" y1="199.86" x2="588.70" y2="219.41" stroke="#e8590c" stroke-width="2.2" />
<line x1="612.75" y1="205.73" x2="612.75" y2="223.81" stroke="#e8590c" stroke-width="2.2" />
<line x1="636.80" y1="174.95" x2="636.80" y2="189.60" stroke="#e8590c" stroke-width="2.2" />
<line x1="660.85" y1="184.72" x2="660.85" y2="206.22" stroke="#e8590c" stroke-width="2.2" />
<line x1="684.90" y1="197.42" x2="684.90" y2="221.85" stroke="#e8590c" stroke-width="2.2" />
<line x1="708.95" y1="192.29" x2="708.95" y2="216.72" stroke="#e8590c" stroke-width="2.2" />
<line x1="733.00" y1="189.85" x2="733.00" y2="209.39" stroke="#e8590c" stroke-width="2.2" />
<line x1="757.05" y1="189.85" x2="757.05" y2="209.39" stroke="#e8590c" stroke-width="2.2" />
<line x1="781.10" y1="185.45" x2="781.10" y2="204.99" stroke="#e8590c" stroke-width="2.2" />
<line x1="805.15" y1="189.12" x2="805.15" y2="208.66" stroke="#e8590c" stroke-width="2.2" />
<line x1="829.20" y1="186.92" x2="829.20" y2="211.35" stroke="#e8590c" stroke-width="2.2" />
<line x1="853.25" y1="144.90" x2="853.25" y2="203.53" stroke="#e8590c" stroke-width="2.2" />
<line x1="877.30" y1="170.30" x2="877.30" y2="219.16" stroke="#e8590c" stroke-width="2.2" />
<line x1="901.35" y1="151.25" x2="901.35" y2="209.88" stroke="#e8590c" stroke-width="2.2" />
<polyline points="444.40,147.83 468.45,149.54 492.50,144.41 516.55,159.80 540.60,169.82 564.65,199.62 588.70,209.64 612.75,214.77 636.80,182.27 660.85,195.47 684.90,209.64 708.95,204.51 733.00,199.62 757.05,199.62 781.10,195.22 805.15,198.89 829.20,199.13 853.25,174.21 877.30,194.73 901.35,180.56" fill="none" stroke="#e8590c" stroke-width="3.4" stroke-linejoin="round" stroke-linecap="butt" />
<circle cx="444.40" cy="147.83" r="3.8" fill="#e8590c"/>
<circle cx="468.45" cy="149.54" r="3.8" fill="#e8590c"/>
<circle cx="492.50" cy="144.41" r="3.8" fill="#e8590c"/>
<circle cx="516.55" cy="159.80" r="3.8" fill="#e8590c"/>
<circle cx="540.60" cy="169.82" r="3.8" fill="#e8590c"/>
<circle cx="564.65" cy="199.62" r="3.8" fill="#e8590c"/>
<circle cx="588.70" cy="209.64" r="3.8" fill="#e8590c"/>
<circle cx="612.75" cy="214.77" r="3.8" fill="#e8590c"/>
<circle cx="636.80" cy="182.27" r="3.8" fill="#e8590c"/>
<circle cx="660.85" cy="195.47" r="3.8" fill="#e8590c"/>
<circle cx="684.90" cy="209.64" r="3.8" fill="#e8590c"/>
<circle cx="708.95" cy="204.51" r="3.8" fill="#e8590c"/>
<circle cx="733.00" cy="199.62" r="3.8" fill="#e8590c"/>
<circle cx="757.05" cy="199.62" r="3.8" fill="#e8590c"/>
<circle cx="781.10" cy="195.22" r="3.8" fill="#e8590c"/>
<circle cx="805.15" cy="198.89" r="3.8" fill="#e8590c"/>
<circle cx="829.20" cy="199.13" r="3.8" fill="#e8590c"/>
<circle cx="853.25" cy="174.21" r="3.8" fill="#e8590c"/>
<circle cx="877.30" cy="194.73" r="3.8" fill="#e8590c"/>
<circle cx="901.35" cy="180.56" r="3.8" fill="#e8590c"/>
<line x1="444.40" y1="121.20" x2="444.40" y2="140.74" stroke="#7f2704" stroke-width="2.2" />
<line x1="468.45" y1="138.54" x2="468.45" y2="158.09" stroke="#7f2704" stroke-width="2.2" />
<line x1="492.50" y1="163.46" x2="492.50" y2="185.94" stroke="#7f2704" stroke-width="2.2" />
<line x1="516.55" y1="170.30" x2="516.55" y2="189.85" stroke="#7f2704" stroke-width="2.2" />
<line x1="540.60" y1="155.16" x2="540.60" y2="176.66" stroke="#7f2704" stroke-width="2.2" />
<line x1="564.65" y1="169.08" x2="564.65" y2="193.51" stroke="#7f2704" stroke-width="2.2" />
<line x1="588.70" y1="182.27" x2="588.70" y2="218.92" stroke="#7f2704" stroke-width="2.2" />
<line x1="612.75" y1="155.65" x2="612.75" y2="204.51" stroke="#7f2704" stroke-width="2.2" />
<polyline points="444.40,130.97 468.45,148.32 492.50,174.70 516.55,180.08 540.60,165.91 564.65,181.30 588.70,200.60 612.75,180.08" fill="none" stroke="#7f2704" stroke-width="3.1" stroke-linejoin="round" stroke-linecap="butt" />
<circle cx="444.40" cy="130.97" r="3.7" fill="#7f2704"/>
<circle cx="468.45" cy="148.32" r="3.7" fill="#7f2704"/>
<circle cx="492.50" cy="174.70" r="3.7" fill="#7f2704"/>
<circle cx="516.55" cy="180.08" r="3.7" fill="#7f2704"/>
<circle cx="540.60" cy="165.91" r="3.7" fill="#7f2704"/>
<circle cx="564.65" cy="181.30" r="3.7" fill="#7f2704"/>
<circle cx="588.70" cy="200.60" r="3.7" fill="#7f2704"/>
<circle cx="612.75" cy="180.08" r="3.7" fill="#7f2704"/>
</g>
<text x="593.90" y="92.30" font-size="11.45" text-anchor="start" fill="#e8590c" font-weight="bold" textLength="100.53" lengthAdjust="spacingAndGlyphs" >ChatGPT Launch</text>
<text x="593.90" y="103.60" font-size="11.45" text-anchor="start" fill="#e8590c" font-weight="bold" textLength="76.16" lengthAdjust="spacingAndGlyphs" >(Class 2022)</text>
<text x="882.75" y="92.20" font-size="11.45" text-anchor="start" fill="#fdb272" font-weight="bold" textLength="100.53" lengthAdjust="spacingAndGlyphs" >ChatGPT Launch</text>
<text x="882.75" y="103.50" font-size="11.45" text-anchor="start" fill="#fdb272" font-weight="bold" textLength="76.16" lengthAdjust="spacingAndGlyphs" >(Class 2021)</text>
<rect x="444.40" y="79.20" width="553.40" height="146.60" fill="none" stroke="#000" stroke-width="1.2"/>
<line x1="441.40" y1="79.18" x2="444.40" y2="79.18" stroke="#000" stroke-width="0.9" />
<text x="438.70" y="83.78" font-size="12.08" text-anchor="end" fill="#000" stroke="#000" stroke-width="0.15" textLength="14.63" lengthAdjust="spacingAndGlyphs" >40</text>
<line x1="441.40" y1="103.61" x2="444.40" y2="103.61" stroke="#000" stroke-width="0.9" />
<text x="438.70" y="108.21" font-size="12.08" text-anchor="end" fill="#000" stroke="#000" stroke-width="0.15" textLength="14.63" lengthAdjust="spacingAndGlyphs" >30</text>
<line x1="441.40" y1="128.04" x2="444.40" y2="128.04" stroke="#000" stroke-width="0.9" />
<text x="438.70" y="132.64" font-size="12.08" text-anchor="end" fill="#000" stroke="#000" stroke-width="0.15" textLength="14.63" lengthAdjust="spacingAndGlyphs" >20</text>
<line x1="441.40" y1="152.47" x2="444.40" y2="152.47" stroke="#000" stroke-width="0.9" />
<text x="438.70" y="157.07" font-size="12.08" text-anchor="end" fill="#000" stroke="#000" stroke-width="0.15" textLength="14.63" lengthAdjust="spacingAndGlyphs" >10</text>
<line x1="441.40" y1="176.90" x2="444.40" y2="176.90" stroke="#000" stroke-width="0.9" />
<text x="438.70" y="181.50" font-size="12.08" text-anchor="end" fill="#000" stroke="#000" stroke-width="0.15" textLength="7.32" lengthAdjust="spacingAndGlyphs" >0</text>
<line x1="441.40" y1="201.33" x2="444.40" y2="201.33" stroke="#000" stroke-width="0.9" />
<text x="438.70" y="205.93" font-size="12.08" text-anchor="end" fill="#000" stroke="#000" stroke-width="0.15" textLength="24.27" lengthAdjust="spacingAndGlyphs" >−10</text>
<line x1="441.40" y1="225.76" x2="444.40" y2="225.76" stroke="#000" stroke-width="0.9" />
<text x="438.70" y="230.36" font-size="12.08" text-anchor="end" fill="#000" stroke="#000" stroke-width="0.15" textLength="24.27" lengthAdjust="spacingAndGlyphs" >−20</text>
<line x1="444.40" y1="225.80" x2="444.40" y2="228.40" stroke="#000" stroke-width="0.9" />
<text x="444.40" y="239.20" font-size="12.08" text-anchor="middle" fill="#000" stroke="#000" stroke-width="0.15" textLength="7.32" lengthAdjust="spacingAndGlyphs" >0</text>
<line x1="564.65" y1="225.80" x2="564.65" y2="228.40" stroke="#000" stroke-width="0.9" />
<text x="564.65" y="239.20" font-size="12.08" text-anchor="middle" fill="#000" stroke="#000" stroke-width="0.15" textLength="7.32" lengthAdjust="spacingAndGlyphs" >5</text>
<line x1="684.90" y1="225.80" x2="684.90" y2="228.40" stroke="#000" stroke-width="0.9" />
<text x="684.90" y="239.20" font-size="12.08" text-anchor="middle" fill="#000" stroke="#000" stroke-width="0.15" textLength="14.63" lengthAdjust="spacingAndGlyphs" >10</text>
<line x1="805.15" y1="225.80" x2="805.15" y2="228.40" stroke="#000" stroke-width="0.9" />
<text x="805.15" y="239.20" font-size="12.08" text-anchor="middle" fill="#000" stroke="#000" stroke-width="0.15" textLength="14.63" lengthAdjust="spacingAndGlyphs" >15</text>
<line x1="925.40" y1="225.80" x2="925.40" y2="228.40" stroke="#000" stroke-width="0.9" />
<text x="925.40" y="239.20" font-size="12.08" text-anchor="middle" fill="#000" stroke="#000" stroke-width="0.15" textLength="14.63" lengthAdjust="spacingAndGlyphs" >20</text>
<text x="721.10" y="250.80" font-size="11.34" text-anchor="middle" fill="#000" stroke="#000" stroke-width="0.15" textLength="338.10" lengthAdjust="spacingAndGlyphs" >Job Start Date measured in Months From May Graduation Year</text>
<text x="385.50" y="151.50" font-size="10.97" text-anchor="middle" fill="#000" stroke="#000" stroke-width="0.15" textLength="143.46" lengthAdjust="spacingAndGlyphs" transform="rotate(-90 385.50 151.50)" >% Change in Share of Hires</text>
<text x="397.00" y="152.00" font-size="10.97" text-anchor="middle" fill="#000" stroke="#000" stroke-width="0.15" textLength="166.78" lengthAdjust="spacingAndGlyphs" transform="rotate(-90 397.00 152.00)" >For High Exposure Jobs Relative</text>
<text x="408.30" y="150.90" font-size="11.34" text-anchor="middle" fill="#000" stroke="#000" stroke-width="0.15" textLength="152.30" lengthAdjust="spacingAndGlyphs" transform="rotate(-90 408.30 150.90)" >to Aggregate (<tspan font-style="italic">jobGap</tspan><tspan font-style="italic" font-size="7.5" dy="2.5">g, high</tspan><tspan dy="-2.5">(</tspan><tspan font-style="italic">t</tspan>))</text>
<line x1="582.08" y1="428.30" x2="582.08" y2="282.30" stroke="#e8590c" stroke-width="1.9" stroke-dasharray="7 4.1"/>
<line x1="875.84" y1="428.30" x2="875.84" y2="282.30" stroke="#fdb272" stroke-width="1.9" stroke-dasharray="7 4.1"/>
<g clip-path="url(#clipD)">
<line x1="435.20" y1="360.57" x2="435.20" y2="377.22" stroke="#94c4df" stroke-width="1.6" />
<line x1="459.68" y1="390.13" x2="459.68" y2="408.87" stroke="#94c4df" stroke-width="1.6" />
<line x1="484.16" y1="364.73" x2="484.16" y2="383.47" stroke="#94c4df" stroke-width="1.6" />
<line x1="508.64" y1="357.45" x2="508.64" y2="376.18" stroke="#94c4df" stroke-width="1.6" />
<line x1="533.12" y1="351.41" x2="533.12" y2="370.15" stroke="#94c4df" stroke-width="1.6" />
<line x1="557.60" y1="328.51" x2="557.60" y2="349.33" stroke="#94c4df" stroke-width="1.6" />
<line x1="582.08" y1="315.40" x2="582.08" y2="336.21" stroke="#94c4df" stroke-width="1.6" />
<line x1="606.56" y1="305.20" x2="606.56" y2="331.84" stroke="#94c4df" stroke-width="1.6" />
<line x1="631.04" y1="345.17" x2="631.04" y2="363.90" stroke="#94c4df" stroke-width="1.6" />
<line x1="655.52" y1="338.92" x2="655.52" y2="359.74" stroke="#94c4df" stroke-width="1.6" />
<line x1="680.00" y1="326.43" x2="680.00" y2="351.41" stroke="#94c4df" stroke-width="1.6" />
<line x1="704.48" y1="320.39" x2="704.48" y2="353.70" stroke="#94c4df" stroke-width="1.6" />
<line x1="728.96" y1="375.77" x2="728.96" y2="396.58" stroke="#94c4df" stroke-width="1.6" />
<line x1="753.44" y1="372.85" x2="753.44" y2="393.67" stroke="#94c4df" stroke-width="1.6" />
<line x1="777.92" y1="354.32" x2="777.92" y2="379.31" stroke="#94c4df" stroke-width="1.6" />
<line x1="802.40" y1="376.81" x2="802.40" y2="397.62" stroke="#94c4df" stroke-width="1.6" />
<line x1="826.88" y1="366.61" x2="826.88" y2="391.59" stroke="#94c4df" stroke-width="1.6" />
<line x1="851.36" y1="360.57" x2="851.36" y2="385.55" stroke="#94c4df" stroke-width="1.6" />
<line x1="875.84" y1="366.61" x2="875.84" y2="395.75" stroke="#94c4df" stroke-width="1.6" />
<line x1="900.32" y1="370.77" x2="900.32" y2="399.91" stroke="#94c4df" stroke-width="1.6" />
<line x1="924.80" y1="381.18" x2="924.80" y2="406.16" stroke="#94c4df" stroke-width="1.6" />
<line x1="949.28" y1="400.33" x2="949.28" y2="429.47" stroke="#94c4df" stroke-width="1.6" />
<line x1="973.76" y1="383.26" x2="973.76" y2="412.40" stroke="#94c4df" stroke-width="1.6" />
<line x1="998.24" y1="377.02" x2="998.24" y2="406.16" stroke="#94c4df" stroke-width="1.6" />
<polyline points="435.20,368.90 459.68,399.50 484.16,374.10 508.64,366.82 533.12,360.78 557.60,338.92 582.08,325.81 606.56,318.52 631.04,354.53 655.52,349.33 680.00,338.92 704.48,337.05 728.96,386.17 753.44,383.26 777.92,366.82 802.40,387.22 826.88,379.10 851.36,373.06 875.84,381.18 900.32,385.34 924.80,393.67 949.28,414.90 973.76,397.83 998.24,391.59" fill="none" stroke="#94c4df" stroke-width="1.8" stroke-linejoin="round" stroke-linecap="butt" />
<line x1="435.20" y1="357.24" x2="435.20" y2="373.89" stroke="#7cb7da" stroke-width="1.6" />
<line x1="459.68" y1="386.38" x2="459.68" y2="405.12" stroke="#7cb7da" stroke-width="1.6" />
<line x1="484.16" y1="362.44" x2="484.16" y2="381.18" stroke="#7cb7da" stroke-width="1.6" />
<line x1="508.64" y1="354.12" x2="508.64" y2="372.85" stroke="#7cb7da" stroke-width="1.6" />
<line x1="533.12" y1="348.91" x2="533.12" y2="367.65" stroke="#7cb7da" stroke-width="1.6" />
<line x1="557.60" y1="326.01" x2="557.60" y2="346.83" stroke="#7cb7da" stroke-width="1.6" />
<line x1="582.08" y1="313.94" x2="582.08" y2="334.76" stroke="#7cb7da" stroke-width="1.6" />
<line x1="606.56" y1="303.32" x2="606.56" y2="329.97" stroke="#7cb7da" stroke-width="1.6" />
<line x1="631.04" y1="344.12" x2="631.04" y2="362.86" stroke="#7cb7da" stroke-width="1.6" />
<line x1="655.52" y1="337.88" x2="655.52" y2="358.70" stroke="#7cb7da" stroke-width="1.6" />
<line x1="680.00" y1="324.97" x2="680.00" y2="349.95" stroke="#7cb7da" stroke-width="1.6" />
<line x1="704.48" y1="318.73" x2="704.48" y2="352.03" stroke="#7cb7da" stroke-width="1.6" />
<line x1="728.96" y1="374.93" x2="728.96" y2="395.75" stroke="#7cb7da" stroke-width="1.6" />
<line x1="753.44" y1="370.77" x2="753.44" y2="391.59" stroke="#7cb7da" stroke-width="1.6" />
<line x1="777.92" y1="352.03" x2="777.92" y2="377.02" stroke="#7cb7da" stroke-width="1.6" />
<line x1="802.40" y1="375.56" x2="802.40" y2="396.38" stroke="#7cb7da" stroke-width="1.6" />
<line x1="826.88" y1="364.53" x2="826.88" y2="389.51" stroke="#7cb7da" stroke-width="1.6" />
<line x1="851.36" y1="358.28" x2="851.36" y2="383.26" stroke="#7cb7da" stroke-width="1.6" />
<line x1="875.84" y1="361.40" x2="875.84" y2="390.55" stroke="#7cb7da" stroke-width="1.6" />
<line x1="900.32" y1="360.36" x2="900.32" y2="389.51" stroke="#7cb7da" stroke-width="1.6" />
<line x1="924.80" y1="379.10" x2="924.80" y2="404.08" stroke="#7cb7da" stroke-width="1.6" />
<line x1="949.28" y1="391.17" x2="949.28" y2="420.31" stroke="#7cb7da" stroke-width="1.6" />
<line x1="973.76" y1="380.14" x2="973.76" y2="409.28" stroke="#7cb7da" stroke-width="1.6" />
<line x1="998.24" y1="375.97" x2="998.24" y2="405.12" stroke="#7cb7da" stroke-width="1.6" />
<polyline points="435.20,365.57 459.68,395.75 484.16,371.81 508.64,363.48 533.12,358.28 557.60,336.42 582.08,324.35 606.56,316.65 631.04,353.49 655.52,348.29 680.00,337.46 704.48,335.38 728.96,385.34 753.44,381.18 777.92,364.53 802.40,385.97 826.88,377.02 851.36,370.77 875.84,375.97 900.32,374.93 924.80,391.59 949.28,405.74 973.76,394.71 998.24,390.55" fill="none" stroke="#7cb7da" stroke-width="1.9" stroke-linejoin="round" stroke-linecap="butt" />
<line x1="435.20" y1="354.12" x2="435.20" y2="370.77" stroke="#66abd4" stroke-width="1.6" />
<line x1="459.68" y1="383.26" x2="459.68" y2="402.00" stroke="#66abd4" stroke-width="1.6" />
<line x1="484.16" y1="359.32" x2="484.16" y2="378.06" stroke="#66abd4" stroke-width="1.6" />
<line x1="508.64" y1="350.99" x2="508.64" y2="369.73" stroke="#66abd4" stroke-width="1.6" />
<line x1="533.12" y1="346.83" x2="533.12" y2="365.57" stroke="#66abd4" stroke-width="1.6" />
<line x1="557.60" y1="322.89" x2="557.60" y2="343.71" stroke="#66abd4" stroke-width="1.6" />
<line x1="582.08" y1="312.48" x2="582.08" y2="333.30" stroke="#66abd4" stroke-width="1.6" />
<line x1="606.56" y1="301.24" x2="606.56" y2="327.89" stroke="#66abd4" stroke-width="1.6" />
<line x1="631.04" y1="342.67" x2="631.04" y2="361.40" stroke="#66abd4" stroke-width="1.6" />
<line x1="655.52" y1="336.42" x2="655.52" y2="357.24" stroke="#66abd4" stroke-width="1.6" />
<line x1="680.00" y1="323.31" x2="680.00" y2="348.29" stroke="#66abd4" stroke-width="1.6" />
<line x1="704.48" y1="316.65" x2="704.48" y2="349.95" stroke="#66abd4" stroke-width="1.6" />
<line x1="728.96" y1="374.31" x2="728.96" y2="395.13" stroke="#66abd4" stroke-width="1.6" />
<line x1="753.44" y1="368.69" x2="753.44" y2="389.51" stroke="#66abd4" stroke-width="1.6" />
<line x1="777.92" y1="349.95" x2="777.92" y2="374.93" stroke="#66abd4" stroke-width="1.6" />
<line x1="802.40" y1="374.31" x2="802.40" y2="395.13" stroke="#66abd4" stroke-width="1.6" />
<line x1="826.88" y1="362.44" x2="826.88" y2="387.42" stroke="#66abd4" stroke-width="1.6" />
<line x1="851.36" y1="356.20" x2="851.36" y2="381.18" stroke="#66abd4" stroke-width="1.6" />
<line x1="875.84" y1="357.24" x2="875.84" y2="386.38" stroke="#66abd4" stroke-width="1.6" />
<line x1="900.32" y1="358.28" x2="900.32" y2="387.42" stroke="#66abd4" stroke-width="1.6" />
<line x1="924.80" y1="380.14" x2="924.80" y2="405.12" stroke="#66abd4" stroke-width="1.6" />
<line x1="949.28" y1="382.84" x2="949.28" y2="411.99" stroke="#66abd4" stroke-width="1.6" />
<line x1="973.76" y1="378.06" x2="973.76" y2="407.20" stroke="#66abd4" stroke-width="1.6" />
<line x1="998.24" y1="375.97" x2="998.24" y2="405.12" stroke="#66abd4" stroke-width="1.6" />
<polyline points="435.20,362.44 459.68,392.63 484.16,368.69 508.64,360.36 533.12,356.20 557.60,333.30 582.08,322.89 606.56,314.56 631.04,352.03 655.52,346.83 680.00,335.80 704.48,333.30 728.96,384.72 753.44,379.10 777.92,362.44 802.40,384.72 826.88,374.93 851.36,368.69 875.84,371.81 900.32,372.85 924.80,392.63 949.28,397.42 973.76,392.63 998.24,390.55" fill="none" stroke="#66abd4" stroke-width="2.0" stroke-linejoin="round" stroke-linecap="butt" />
<line x1="435.20" y1="350.99" x2="435.20" y2="367.65" stroke="#539ecd" stroke-width="1.6" />
<line x1="459.68" y1="380.14" x2="459.68" y2="398.87" stroke="#539ecd" stroke-width="1.6" />
<line x1="484.16" y1="357.24" x2="484.16" y2="375.97" stroke="#539ecd" stroke-width="1.6" />
<line x1="508.64" y1="347.87" x2="508.64" y2="366.61" stroke="#539ecd" stroke-width="1.6" />
<line x1="533.12" y1="344.75" x2="533.12" y2="363.48" stroke="#539ecd" stroke-width="1.6" />
<line x1="557.60" y1="319.77" x2="557.60" y2="340.59" stroke="#539ecd" stroke-width="1.6" />
<line x1="582.08" y1="311.44" x2="582.08" y2="332.26" stroke="#539ecd" stroke-width="1.6" />
<line x1="606.56" y1="299.16" x2="606.56" y2="325.81" stroke="#539ecd" stroke-width="1.6" />
<line x1="631.04" y1="341.63" x2="631.04" y2="360.36" stroke="#539ecd" stroke-width="1.6" />
<line x1="655.52" y1="334.76" x2="655.52" y2="355.57" stroke="#539ecd" stroke-width="1.6" />
<line x1="680.00" y1="321.85" x2="680.00" y2="346.83" stroke="#539ecd" stroke-width="1.6" />
<line x1="704.48" y1="314.56" x2="704.48" y2="347.87" stroke="#539ecd" stroke-width="1.6" />
<line x1="728.96" y1="373.89" x2="728.96" y2="394.71" stroke="#539ecd" stroke-width="1.6" />
<line x1="753.44" y1="367.23" x2="753.44" y2="388.05" stroke="#539ecd" stroke-width="1.6" />
<line x1="777.92" y1="348.29" x2="777.92" y2="373.27" stroke="#539ecd" stroke-width="1.6" />
<line x1="802.40" y1="373.06" x2="802.40" y2="393.88" stroke="#539ecd" stroke-width="1.6" />
<line x1="826.88" y1="360.36" x2="826.88" y2="385.34" stroke="#539ecd" stroke-width="1.6" />
<line x1="851.36" y1="354.12" x2="851.36" y2="379.10" stroke="#539ecd" stroke-width="1.6" />
<line x1="875.84" y1="354.12" x2="875.84" y2="383.26" stroke="#539ecd" stroke-width="1.6" />
<line x1="900.32" y1="355.16" x2="900.32" y2="384.30" stroke="#539ecd" stroke-width="1.6" />
<line x1="924.80" y1="378.06" x2="924.80" y2="403.04" stroke="#539ecd" stroke-width="1.6" />
<line x1="949.28" y1="380.55" x2="949.28" y2="409.70" stroke="#539ecd" stroke-width="1.6" />
<line x1="973.76" y1="374.93" x2="973.76" y2="404.08" stroke="#539ecd" stroke-width="1.6" />
<line x1="998.24" y1="372.85" x2="998.24" y2="402.00" stroke="#539ecd" stroke-width="1.6" />
<polyline points="435.20,359.32 459.68,389.51 484.16,366.61 508.64,357.24 533.12,354.12 557.60,330.18 582.08,321.85 606.56,312.48 631.04,350.99 655.52,345.17 680.00,334.34 704.48,331.22 728.96,384.30 753.44,377.64 777.92,360.78 802.40,383.47 826.88,372.85 851.36,366.61 875.84,368.69 900.32,369.73 924.80,390.55 949.28,395.13 973.76,389.51 998.24,387.42" fill="none" stroke="#539ecd" stroke-width="2.1" stroke-linejoin="round" stroke-linecap="butt" />
<line x1="435.20" y1="347.87" x2="435.20" y2="364.53" stroke="#4191c6" stroke-width="1.6" />
<line x1="459.68" y1="377.02" x2="459.68" y2="395.75" stroke="#4191c6" stroke-width="1.6" />
<line x1="484.16" y1="355.16" x2="484.16" y2="373.89" stroke="#4191c6" stroke-width="1.6" />
<line x1="508.64" y1="344.75" x2="508.64" y2="363.48" stroke="#4191c6" stroke-width="1.6" />
<line x1="533.12" y1="342.67" x2="533.12" y2="361.40" stroke="#4191c6" stroke-width="1.6" />
<line x1="557.60" y1="316.65" x2="557.60" y2="337.46" stroke="#4191c6" stroke-width="1.6" />
<line x1="582.08" y1="309.78" x2="582.08" y2="330.59" stroke="#4191c6" stroke-width="1.6" />
<line x1="606.56" y1="297.49" x2="606.56" y2="324.14" stroke="#4191c6" stroke-width="1.6" />
<line x1="631.04" y1="340.59" x2="631.04" y2="359.32" stroke="#4191c6" stroke-width="1.6" />
<line x1="655.52" y1="333.30" x2="655.52" y2="354.12" stroke="#4191c6" stroke-width="1.6" />
<line x1="680.00" y1="320.18" x2="680.00" y2="345.17" stroke="#4191c6" stroke-width="1.6" />
<line x1="704.48" y1="312.90" x2="704.48" y2="346.21" stroke="#4191c6" stroke-width="1.6" />
<line x1="728.96" y1="373.27" x2="728.96" y2="394.09" stroke="#4191c6" stroke-width="1.6" />
<line x1="753.44" y1="365.57" x2="753.44" y2="386.38" stroke="#4191c6" stroke-width="1.6" />
<line x1="777.92" y1="346.21" x2="777.92" y2="371.19" stroke="#4191c6" stroke-width="1.6" />
<line x1="802.40" y1="371.81" x2="802.40" y2="392.63" stroke="#4191c6" stroke-width="1.6" />
<line x1="826.88" y1="358.70" x2="826.88" y2="383.68" stroke="#4191c6" stroke-width="1.6" />
<line x1="851.36" y1="352.03" x2="851.36" y2="377.02" stroke="#4191c6" stroke-width="1.6" />
<line x1="875.84" y1="350.99" x2="875.84" y2="380.14" stroke="#4191c6" stroke-width="1.6" />
<line x1="900.32" y1="352.03" x2="900.32" y2="381.18" stroke="#4191c6" stroke-width="1.6" />
<line x1="924.80" y1="375.97" x2="924.80" y2="400.95" stroke="#4191c6" stroke-width="1.6" />
<line x1="949.28" y1="378.47" x2="949.28" y2="407.62" stroke="#4191c6" stroke-width="1.6" />
<line x1="973.76" y1="371.81" x2="973.76" y2="400.95" stroke="#4191c6" stroke-width="1.6" />
<line x1="998.24" y1="370.77" x2="998.24" y2="399.91" stroke="#4191c6" stroke-width="1.6" />
<polyline points="435.20,356.20 459.68,386.38 484.16,364.53 508.64,354.12 533.12,352.03 557.60,327.05 582.08,320.18 606.56,310.82 631.04,349.95 655.52,343.71 680.00,332.68 704.48,329.55 728.96,383.68 753.44,375.97 777.92,358.70 802.40,382.22 826.88,371.19 851.36,364.53 875.84,365.57 900.32,366.61 924.80,388.46 949.28,393.04 973.76,386.38 998.24,385.34" fill="none" stroke="#4191c6" stroke-width="2.2" stroke-linejoin="round" stroke-linecap="butt" />
<line x1="435.20" y1="344.75" x2="435.20" y2="361.40" stroke="#3282be" stroke-width="1.6" />
<line x1="459.68" y1="372.85" x2="459.68" y2="391.59" stroke="#3282be" stroke-width="1.6" />
<line x1="484.16" y1="352.45" x2="484.16" y2="371.19" stroke="#3282be" stroke-width="1.6" />
<line x1="508.64" y1="342.67" x2="508.64" y2="361.40" stroke="#3282be" stroke-width="1.6" />
<line x1="533.12" y1="339.54" x2="533.12" y2="358.28" stroke="#3282be" stroke-width="1.6" />
<line x1="557.60" y1="313.52" x2="557.60" y2="334.34" stroke="#3282be" stroke-width="1.6" />
<line x1="582.08" y1="308.11" x2="582.08" y2="328.93" stroke="#3282be" stroke-width="1.6" />
<line x1="606.56" y1="295.00" x2="606.56" y2="321.64" stroke="#3282be" stroke-width="1.6" />
<line x1="631.04" y1="339.13" x2="631.04" y2="357.86" stroke="#3282be" stroke-width="1.6" />
<line x1="655.52" y1="331.84" x2="655.52" y2="352.66" stroke="#3282be" stroke-width="1.6" />
<line x1="680.00" y1="318.31" x2="680.00" y2="343.29" stroke="#3282be" stroke-width="1.6" />
<line x1="704.48" y1="310.19" x2="704.48" y2="343.50" stroke="#3282be" stroke-width="1.6" />
<line x1="728.96" y1="372.85" x2="728.96" y2="393.67" stroke="#3282be" stroke-width="1.6" />
<line x1="753.44" y1="363.48" x2="753.44" y2="384.30" stroke="#3282be" stroke-width="1.6" />
<line x1="777.92" y1="344.12" x2="777.92" y2="369.10" stroke="#3282be" stroke-width="1.6" />
<line x1="802.40" y1="370.77" x2="802.40" y2="391.59" stroke="#3282be" stroke-width="1.6" />
<line x1="826.88" y1="356.41" x2="826.88" y2="381.39" stroke="#3282be" stroke-width="1.6" />
<line x1="851.36" y1="348.29" x2="851.36" y2="373.27" stroke="#3282be" stroke-width="1.6" />
<line x1="875.84" y1="344.12" x2="875.84" y2="373.27" stroke="#3282be" stroke-width="1.6" />
<line x1="900.32" y1="348.08" x2="900.32" y2="377.22" stroke="#3282be" stroke-width="1.6" />
<line x1="924.80" y1="372.64" x2="924.80" y2="397.62" stroke="#3282be" stroke-width="1.6" />
<line x1="949.28" y1="376.81" x2="949.28" y2="405.95" stroke="#3282be" stroke-width="1.6" />
<line x1="973.76" y1="367.65" x2="973.76" y2="396.79" stroke="#3282be" stroke-width="1.6" />
<line x1="998.24" y1="367.65" x2="998.24" y2="396.79" stroke="#3282be" stroke-width="1.6" />
<polyline points="435.20,353.08 459.68,382.22 484.16,361.82 508.64,352.03 533.12,348.91 557.60,323.93 582.08,318.52 606.56,308.32 631.04,348.50 655.52,342.25 680.00,330.80 704.48,326.85 728.96,383.26 753.44,373.89 777.92,356.61 802.40,381.18 826.88,368.90 851.36,360.78 875.84,358.70 900.32,362.65 924.80,385.13 949.28,391.38 973.76,382.22 998.24,382.22" fill="none" stroke="#3282be" stroke-width="2.3" stroke-linejoin="round" stroke-linecap="butt" />
<line x1="435.20" y1="342.04" x2="435.20" y2="358.70" stroke="#1f6db1" stroke-width="1.6" />
<line x1="459.68" y1="368.69" x2="459.68" y2="387.42" stroke="#1f6db1" stroke-width="1.6" />
<line x1="484.16" y1="349.33" x2="484.16" y2="368.06" stroke="#1f6db1" stroke-width="1.6" />
<line x1="508.64" y1="339.96" x2="508.64" y2="358.70" stroke="#1f6db1" stroke-width="1.6" />
<line x1="533.12" y1="335.80" x2="533.12" y2="354.53" stroke="#1f6db1" stroke-width="1.6" />
<line x1="557.60" y1="310.19" x2="557.60" y2="331.01" stroke="#1f6db1" stroke-width="1.6" />
<line x1="582.08" y1="297.91" x2="582.08" y2="318.73" stroke="#1f6db1" stroke-width="1.6" />
<line x1="606.56" y1="300.20" x2="606.56" y2="326.85" stroke="#1f6db1" stroke-width="1.6" />
<line x1="631.04" y1="341.63" x2="631.04" y2="360.36" stroke="#1f6db1" stroke-width="1.6" />
<line x1="655.52" y1="330.59" x2="655.52" y2="351.41" stroke="#1f6db1" stroke-width="1.6" />
<line x1="680.00" y1="323.93" x2="680.00" y2="348.91" stroke="#1f6db1" stroke-width="1.6" />
<line x1="704.48" y1="315.61" x2="704.48" y2="348.91" stroke="#1f6db1" stroke-width="1.6" />
<line x1="728.96" y1="371.81" x2="728.96" y2="392.63" stroke="#1f6db1" stroke-width="1.6" />
<line x1="753.44" y1="364.53" x2="753.44" y2="385.34" stroke="#1f6db1" stroke-width="1.6" />
<line x1="777.92" y1="344.75" x2="777.92" y2="369.73" stroke="#1f6db1" stroke-width="1.6" />
<line x1="802.40" y1="369.73" x2="802.40" y2="390.55" stroke="#1f6db1" stroke-width="1.6" />
<line x1="826.88" y1="357.24" x2="826.88" y2="382.22" stroke="#1f6db1" stroke-width="1.6" />
<line x1="851.36" y1="350.99" x2="851.36" y2="375.97" stroke="#1f6db1" stroke-width="1.6" />
<line x1="875.84" y1="348.91" x2="875.84" y2="378.06" stroke="#1f6db1" stroke-width="1.6" />
<line x1="900.32" y1="350.99" x2="900.32" y2="380.14" stroke="#1f6db1" stroke-width="1.6" />
<line x1="924.80" y1="380.14" x2="924.80" y2="405.12" stroke="#1f6db1" stroke-width="1.6" />
<line x1="949.28" y1="370.56" x2="949.28" y2="399.71" stroke="#1f6db1" stroke-width="1.6" />
<line x1="973.76" y1="380.14" x2="973.76" y2="409.28" stroke="#1f6db1" stroke-width="1.6" />
<line x1="998.24" y1="378.06" x2="998.24" y2="407.20" stroke="#1f6db1" stroke-width="1.6" />
<polyline points="435.20,350.37 459.68,378.06 484.16,358.70 508.64,349.33 533.12,345.17 557.60,320.60 582.08,308.32 606.56,313.52 631.04,350.99 655.52,341.00 680.00,336.42 704.48,332.26 728.96,382.22 753.44,374.93 777.92,357.24 802.40,380.14 826.88,369.73 851.36,363.48 875.84,363.48 900.32,365.57 924.80,392.63 949.28,385.13 973.76,394.71 998.24,392.63" fill="none" stroke="#1f6db1" stroke-width="2.4" stroke-linejoin="round" stroke-linecap="butt" />
<line x1="435.20" y1="341.00" x2="435.20" y2="357.66" stroke="#0f56a0" stroke-width="1.6" />
<line x1="459.68" y1="364.53" x2="459.68" y2="383.26" stroke="#0f56a0" stroke-width="1.6" />
<line x1="484.16" y1="350.99" x2="484.16" y2="369.73" stroke="#0f56a0" stroke-width="1.6" />
<line x1="508.64" y1="341.63" x2="508.64" y2="360.36" stroke="#0f56a0" stroke-width="1.6" />
<line x1="533.12" y1="337.46" x2="533.12" y2="356.20" stroke="#0f56a0" stroke-width="1.6" />
<line x1="557.60" y1="311.44" x2="557.60" y2="332.26" stroke="#0f56a0" stroke-width="1.6" />
<line x1="582.08" y1="305.20" x2="582.08" y2="326.01" stroke="#0f56a0" stroke-width="1.6" />
<line x1="606.56" y1="285.84" x2="606.56" y2="312.48" stroke="#0f56a0" stroke-width="1.6" />
<line x1="631.04" y1="342.67" x2="631.04" y2="361.40" stroke="#0f56a0" stroke-width="1.6" />
<line x1="655.52" y1="334.34" x2="655.52" y2="355.16" stroke="#0f56a0" stroke-width="1.6" />
<line x1="680.00" y1="306.03" x2="680.00" y2="331.01" stroke="#0f56a0" stroke-width="1.6" />
<line x1="704.48" y1="297.91" x2="704.48" y2="331.22" stroke="#0f56a0" stroke-width="1.6" />
<line x1="728.96" y1="367.65" x2="728.96" y2="388.46" stroke="#0f56a0" stroke-width="1.6" />
<line x1="753.44" y1="357.45" x2="753.44" y2="378.26" stroke="#0f56a0" stroke-width="1.6" />
<line x1="777.92" y1="341.00" x2="777.92" y2="365.98" stroke="#0f56a0" stroke-width="1.6" />
<line x1="802.40" y1="366.61" x2="802.40" y2="387.42" stroke="#0f56a0" stroke-width="1.6" />
<line x1="826.88" y1="351.20" x2="826.88" y2="376.18" stroke="#0f56a0" stroke-width="1.6" />
<line x1="851.36" y1="338.92" x2="851.36" y2="363.90" stroke="#0f56a0" stroke-width="1.6" />
<line x1="875.84" y1="333.92" x2="875.84" y2="363.07" stroke="#0f56a0" stroke-width="1.6" />
<line x1="900.32" y1="338.92" x2="900.32" y2="368.06" stroke="#0f56a0" stroke-width="1.6" />
<line x1="924.80" y1="382.22" x2="924.80" y2="407.20" stroke="#0f56a0" stroke-width="1.6" />
<line x1="949.28" y1="375.97" x2="949.28" y2="405.12" stroke="#0f56a0" stroke-width="1.6" />
<line x1="973.76" y1="373.89" x2="973.76" y2="403.04" stroke="#0f56a0" stroke-width="1.6" />
<line x1="998.24" y1="382.22" x2="998.24" y2="411.36" stroke="#0f56a0" stroke-width="1.6" />
<polyline points="435.20,349.33 459.68,373.89 484.16,360.36 508.64,350.99 533.12,346.83 557.60,321.85 582.08,315.61 606.56,299.16 631.04,352.03 655.52,344.75 680.00,318.52 704.48,314.56 728.96,378.06 753.44,367.86 777.92,353.49 802.40,377.02 826.88,363.69 851.36,351.41 875.84,348.50 900.32,353.49 924.80,394.71 949.28,390.55 973.76,388.46 998.24,396.79" fill="none" stroke="#0f56a0" stroke-width="2.5" stroke-linejoin="round" stroke-linecap="butt" />
<line x1="435.20" y1="319.56" x2="435.20" y2="334.13" stroke="#fdb272" stroke-width="2.0" />
<line x1="459.68" y1="356.41" x2="459.68" y2="370.98" stroke="#fdb272" stroke-width="2.0" />
<line x1="484.16" y1="323.72" x2="484.16" y2="337.88" stroke="#fdb272" stroke-width="2.0" />
<line x1="508.64" y1="331.63" x2="508.64" y2="346.21" stroke="#fdb272" stroke-width="2.0" />
<line x1="533.12" y1="323.52" x2="533.12" y2="338.09" stroke="#fdb272" stroke-width="2.0" />
<line x1="557.60" y1="292.08" x2="557.60" y2="308.32" stroke="#fdb272" stroke-width="2.0" />
<line x1="582.08" y1="299.16" x2="582.08" y2="315.81" stroke="#fdb272" stroke-width="2.0" />
<line x1="606.56" y1="299.16" x2="606.56" y2="315.81" stroke="#fdb272" stroke-width="2.0" />
<line x1="631.04" y1="343.92" x2="631.04" y2="358.49" stroke="#fdb272" stroke-width="2.0" />
<line x1="655.52" y1="338.92" x2="655.52" y2="353.49" stroke="#fdb272" stroke-width="2.0" />
<line x1="680.00" y1="329.76" x2="680.00" y2="346.41" stroke="#fdb272" stroke-width="2.0" />
<line x1="704.48" y1="314.36" x2="704.48" y2="331.01" stroke="#fdb272" stroke-width="2.0" />
<line x1="728.96" y1="389.09" x2="728.96" y2="405.74" stroke="#fdb272" stroke-width="2.0" />
<line x1="753.44" y1="386.17" x2="753.44" y2="402.83" stroke="#fdb272" stroke-width="2.0" />
<line x1="777.92" y1="366.61" x2="777.92" y2="387.42" stroke="#fdb272" stroke-width="2.0" />
<line x1="802.40" y1="383.05" x2="802.40" y2="399.71" stroke="#fdb272" stroke-width="2.0" />
<line x1="826.88" y1="382.01" x2="826.88" y2="398.67" stroke="#fdb272" stroke-width="2.0" />
<line x1="851.36" y1="355.37" x2="851.36" y2="376.18" stroke="#fdb272" stroke-width="2.0" />
<line x1="875.84" y1="360.57" x2="875.84" y2="381.39" stroke="#fdb272" stroke-width="2.0" />
<line x1="900.32" y1="356.41" x2="900.32" y2="377.22" stroke="#fdb272" stroke-width="2.0" />
<line x1="924.80" y1="388.05" x2="924.80" y2="408.87" stroke="#fdb272" stroke-width="2.0" />
<line x1="949.28" y1="379.93" x2="949.28" y2="400.75" stroke="#fdb272" stroke-width="2.0" />
<line x1="973.76" y1="360.57" x2="973.76" y2="385.55" stroke="#fdb272" stroke-width="2.0" />
<line x1="998.24" y1="384.09" x2="998.24" y2="409.07" stroke="#fdb272" stroke-width="2.0" />
<polyline points="435.20,326.85 459.68,363.69 484.16,330.80 508.64,338.92 533.12,330.80 557.60,300.20 582.08,307.49 606.56,307.49 631.04,351.20 655.52,346.21 680.00,338.09 704.48,322.68 728.96,397.42 753.44,394.50 777.92,377.02 802.40,391.38 826.88,390.34 851.36,365.77 875.84,370.98 900.32,366.82 924.80,398.46 949.28,390.34 973.76,373.06 998.24,396.58" fill="none" stroke="#fdb272" stroke-width="3.3" stroke-linejoin="round" stroke-linecap="butt" />
<circle cx="435.20" cy="326.85" r="3.5" fill="#fdb272"/>
<circle cx="459.68" cy="363.69" r="3.5" fill="#fdb272"/>
<circle cx="484.16" cy="330.80" r="3.5" fill="#fdb272"/>
<circle cx="508.64" cy="338.92" r="3.5" fill="#fdb272"/>
<circle cx="533.12" cy="330.80" r="3.5" fill="#fdb272"/>
<circle cx="557.60" cy="300.20" r="3.5" fill="#fdb272"/>
<circle cx="582.08" cy="307.49" r="3.5" fill="#fdb272"/>
<circle cx="606.56" cy="307.49" r="3.5" fill="#fdb272"/>
<circle cx="631.04" cy="351.20" r="3.5" fill="#fdb272"/>
<circle cx="655.52" cy="346.21" r="3.5" fill="#fdb272"/>
<circle cx="680.00" cy="338.09" r="3.5" fill="#fdb272"/>
<circle cx="704.48" cy="322.68" r="3.5" fill="#fdb272"/>
<circle cx="728.96" cy="397.42" r="3.5" fill="#fdb272"/>
<circle cx="753.44" cy="394.50" r="3.5" fill="#fdb272"/>
<circle cx="777.92" cy="377.02" r="3.5" fill="#fdb272"/>
<circle cx="802.40" cy="391.38" r="3.5" fill="#fdb272"/>
<circle cx="826.88" cy="390.34" r="3.5" fill="#fdb272"/>
<circle cx="851.36" cy="365.77" r="3.5" fill="#fdb272"/>
<circle cx="875.84" cy="370.98" r="3.5" fill="#fdb272"/>
<circle cx="900.32" cy="366.82" r="3.5" fill="#fdb272"/>
<circle cx="924.80" cy="398.46" r="3.5" fill="#fdb272"/>
<circle cx="949.28" cy="390.34" r="3.5" fill="#fdb272"/>
<circle cx="973.76" cy="373.06" r="3.5" fill="#fdb272"/>
<circle cx="998.24" cy="396.58" r="3.5" fill="#fdb272"/>
<line x1="435.20" y1="337.88" x2="435.20" y2="354.53" stroke="#e8590c" stroke-width="2.2" />
<line x1="459.68" y1="370.77" x2="459.68" y2="387.42" stroke="#e8590c" stroke-width="2.2" />
<line x1="484.16" y1="354.32" x2="484.16" y2="370.98" stroke="#e8590c" stroke-width="2.2" />
<line x1="508.64" y1="353.28" x2="508.64" y2="369.94" stroke="#e8590c" stroke-width="2.2" />
<line x1="533.12" y1="350.79" x2="533.12" y2="367.44" stroke="#e8590c" stroke-width="2.2" />
<line x1="557.60" y1="325.60" x2="557.60" y2="342.25" stroke="#e8590c" stroke-width="2.2" />
<line x1="582.08" y1="310.19" x2="582.08" y2="331.01" stroke="#e8590c" stroke-width="2.2" />
<line x1="606.56" y1="315.40" x2="606.56" y2="336.21" stroke="#e8590c" stroke-width="2.2" />
<line x1="631.04" y1="354.32" x2="631.04" y2="370.98" stroke="#e8590c" stroke-width="2.2" />
<line x1="655.52" y1="343.71" x2="655.52" y2="360.36" stroke="#e8590c" stroke-width="2.2" />
<line x1="680.00" y1="328.51" x2="680.00" y2="349.33" stroke="#e8590c" stroke-width="2.2" />
<line x1="704.48" y1="333.72" x2="704.48" y2="358.70" stroke="#e8590c" stroke-width="2.2" />
<line x1="728.96" y1="396.38" x2="728.96" y2="413.03" stroke="#e8590c" stroke-width="2.2" />
<line x1="753.44" y1="391.17" x2="753.44" y2="407.82" stroke="#e8590c" stroke-width="2.2" />
<line x1="777.92" y1="387.01" x2="777.92" y2="403.66" stroke="#e8590c" stroke-width="2.2" />
<line x1="802.40" y1="389.09" x2="802.40" y2="405.74" stroke="#e8590c" stroke-width="2.2" />
<line x1="826.88" y1="392.21" x2="826.88" y2="408.87" stroke="#e8590c" stroke-width="2.2" />
<line x1="851.36" y1="367.44" x2="851.36" y2="394.92" stroke="#e8590c" stroke-width="2.2" />
<line x1="875.84" y1="333.72" x2="875.84" y2="383.68" stroke="#e8590c" stroke-width="2.2" />
<line x1="900.32" y1="362.65" x2="900.32" y2="407.62" stroke="#e8590c" stroke-width="2.2" />
<polyline points="435.20,346.21 459.68,379.10 484.16,362.65 508.64,361.61 533.12,359.11 557.60,333.92 582.08,320.60 606.56,325.81 631.04,362.65 655.52,352.03 680.00,338.92 704.48,346.21 728.96,404.70 753.44,399.50 777.92,395.33 802.40,397.42 826.88,400.54 851.36,381.18 875.84,358.70 900.32,385.13" fill="none" stroke="#e8590c" stroke-width="3.4" stroke-linejoin="round" stroke-linecap="butt" />
<circle cx="435.20" cy="346.21" r="3.8" fill="#e8590c"/>
<circle cx="459.68" cy="379.10" r="3.8" fill="#e8590c"/>
<circle cx="484.16" cy="362.65" r="3.8" fill="#e8590c"/>
<circle cx="508.64" cy="361.61" r="3.8" fill="#e8590c"/>
<circle cx="533.12" cy="359.11" r="3.8" fill="#e8590c"/>
<circle cx="557.60" cy="333.92" r="3.8" fill="#e8590c"/>
<circle cx="582.08" cy="320.60" r="3.8" fill="#e8590c"/>
<circle cx="606.56" cy="325.81" r="3.8" fill="#e8590c"/>
<circle cx="631.04" cy="362.65" r="3.8" fill="#e8590c"/>
<circle cx="655.52" cy="352.03" r="3.8" fill="#e8590c"/>
<circle cx="680.00" cy="338.92" r="3.8" fill="#e8590c"/>
<circle cx="704.48" cy="346.21" r="3.8" fill="#e8590c"/>
<circle cx="728.96" cy="404.70" r="3.8" fill="#e8590c"/>
<circle cx="753.44" cy="399.50" r="3.8" fill="#e8590c"/>
<circle cx="777.92" cy="395.33" r="3.8" fill="#e8590c"/>
<circle cx="802.40" cy="397.42" r="3.8" fill="#e8590c"/>
<circle cx="826.88" cy="400.54" r="3.8" fill="#e8590c"/>
<circle cx="851.36" cy="381.18" r="3.8" fill="#e8590c"/>
<circle cx="875.84" cy="358.70" r="3.8" fill="#e8590c"/>
<circle cx="900.32" cy="385.13" r="3.8" fill="#e8590c"/>
<line x1="435.20" y1="367.65" x2="435.20" y2="384.30" stroke="#7f2704" stroke-width="2.2" />
<line x1="459.68" y1="383.05" x2="459.68" y2="399.71" stroke="#7f2704" stroke-width="2.2" />
<line x1="484.16" y1="344.12" x2="484.16" y2="360.78" stroke="#7f2704" stroke-width="2.2" />
<line x1="508.64" y1="364.11" x2="508.64" y2="379.51" stroke="#7f2704" stroke-width="2.2" />
<line x1="533.12" y1="365.57" x2="533.12" y2="382.22" stroke="#7f2704" stroke-width="2.2" />
<line x1="557.60" y1="340.17" x2="557.60" y2="358.49" stroke="#7f2704" stroke-width="2.2" />
<line x1="582.08" y1="332.05" x2="582.08" y2="368.69" stroke="#7f2704" stroke-width="2.2" />
<line x1="606.56" y1="301.87" x2="606.56" y2="360.15" stroke="#7f2704" stroke-width="2.2" />
<polyline points="435.20,375.97 459.68,391.38 484.16,352.45 508.64,371.81 533.12,373.89 557.60,349.33 582.08,350.37 606.56,331.01" fill="none" stroke="#7f2704" stroke-width="3.1" stroke-linejoin="round" stroke-linecap="butt" />
<circle cx="435.20" cy="375.97" r="3.7" fill="#7f2704"/>
<circle cx="459.68" cy="391.38" r="3.7" fill="#7f2704"/>
<circle cx="484.16" cy="352.45" r="3.7" fill="#7f2704"/>
<circle cx="508.64" cy="371.81" r="3.7" fill="#7f2704"/>
<circle cx="533.12" cy="373.89" r="3.7" fill="#7f2704"/>
<circle cx="557.60" cy="349.33" r="3.7" fill="#7f2704"/>
<circle cx="582.08" cy="350.37" r="3.7" fill="#7f2704"/>
<circle cx="606.56" cy="331.01" r="3.7" fill="#7f2704"/>
</g>
<text x="576.20" y="414.30" font-size="11.45" text-anchor="end" fill="#e8590c" font-weight="bold" textLength="100.53" lengthAdjust="spacingAndGlyphs" >ChatGPT Launch</text>
<text x="576.20" y="425.30" font-size="11.45" text-anchor="end" fill="#e8590c" font-weight="bold" textLength="76.16" lengthAdjust="spacingAndGlyphs" >(Class 2022)</text>
<text x="870.00" y="298.20" font-size="11.45" text-anchor="end" fill="#fdb272" font-weight="bold" textLength="100.53" lengthAdjust="spacingAndGlyphs" >ChatGPT Launch</text>
<text x="870.00" y="309.50" font-size="11.45" text-anchor="end" fill="#fdb272" font-weight="bold" textLength="76.16" lengthAdjust="spacingAndGlyphs" >(Class 2021)</text>
<rect x="435.20" y="282.30" width="563.00" height="146.00" fill="none" stroke="#000" stroke-width="1.2"/>
<line x1="432.20" y1="282.30" x2="435.20" y2="282.30" stroke="#000" stroke-width="0.9" />
<text x="429.50" y="286.90" font-size="12.08" text-anchor="end" fill="#000" stroke="#000" stroke-width="0.15" textLength="14.63" lengthAdjust="spacingAndGlyphs" >80</text>
<line x1="432.20" y1="323.93" x2="435.20" y2="323.93" stroke="#000" stroke-width="0.9" />
<text x="429.50" y="328.53" font-size="12.08" text-anchor="end" fill="#000" stroke="#000" stroke-width="0.15" textLength="14.63" lengthAdjust="spacingAndGlyphs" >60</text>
<line x1="432.20" y1="365.57" x2="435.20" y2="365.57" stroke="#000" stroke-width="0.9" />
<text x="429.50" y="370.17" font-size="12.08" text-anchor="end" fill="#000" stroke="#000" stroke-width="0.15" textLength="14.63" lengthAdjust="spacingAndGlyphs" >40</text>
<line x1="432.20" y1="407.20" x2="435.20" y2="407.20" stroke="#000" stroke-width="0.9" />
<text x="429.50" y="411.80" font-size="12.08" text-anchor="end" fill="#000" stroke="#000" stroke-width="0.15" textLength="14.63" lengthAdjust="spacingAndGlyphs" >20</text>
<line x1="435.20" y1="428.30" x2="435.20" y2="430.90" stroke="#000" stroke-width="0.9" />
<text x="435.20" y="441.80" font-size="12.08" text-anchor="middle" fill="#000" stroke="#000" stroke-width="0.15" textLength="7.32" lengthAdjust="spacingAndGlyphs" >0</text>
<line x1="557.60" y1="428.30" x2="557.60" y2="430.90" stroke="#000" stroke-width="0.9" />
<text x="557.60" y="441.80" font-size="12.08" text-anchor="middle" fill="#000" stroke="#000" stroke-width="0.15" textLength="7.32" lengthAdjust="spacingAndGlyphs" >5</text>
<line x1="680.00" y1="428.30" x2="680.00" y2="430.90" stroke="#000" stroke-width="0.9" />
<text x="680.00" y="441.80" font-size="12.08" text-anchor="middle" fill="#000" stroke="#000" stroke-width="0.15" textLength="14.63" lengthAdjust="spacingAndGlyphs" >10</text>
<line x1="802.40" y1="428.30" x2="802.40" y2="430.90" stroke="#000" stroke-width="0.9" />
<text x="802.40" y="441.80" font-size="12.08" text-anchor="middle" fill="#000" stroke="#000" stroke-width="0.15" textLength="14.63" lengthAdjust="spacingAndGlyphs" >15</text>
<line x1="924.80" y1="428.30" x2="924.80" y2="430.90" stroke="#000" stroke-width="0.9" />
<text x="924.80" y="441.80" font-size="12.08" text-anchor="middle" fill="#000" stroke="#000" stroke-width="0.15" textLength="14.63" lengthAdjust="spacingAndGlyphs" >20</text>
<text x="716.70" y="453.75" font-size="11.34" text-anchor="middle" fill="#000" stroke="#000" stroke-width="0.15" textLength="338.10" lengthAdjust="spacingAndGlyphs" >Job Start Date measured in Months From May Graduation Year</text>
<text x="385.40" y="354.60" font-size="10.97" text-anchor="middle" fill="#000" stroke="#000" stroke-width="0.15" textLength="143.46" lengthAdjust="spacingAndGlyphs" transform="rotate(-90 385.40 354.60)" >% Change in Share of Hires</text>
<text x="396.90" y="355.00" font-size="10.97" text-anchor="middle" fill="#000" stroke="#000" stroke-width="0.15" textLength="163.52" lengthAdjust="spacingAndGlyphs" transform="rotate(-90 396.90 355.00)" >For Low Exposure Jobs Relative</text>
<text x="408.30" y="354.20" font-size="11.34" text-anchor="middle" fill="#000" stroke="#000" stroke-width="0.15" textLength="148.80" lengthAdjust="spacingAndGlyphs" transform="rotate(-90 408.30 354.20)" >to Aggregate (<tspan font-style="italic">jobGap</tspan><tspan font-style="italic" font-size="7.5" dy="2.5">g, low</tspan><tspan dy="-2.5">(</tspan><tspan font-style="italic">t</tspan>))</text>
<text x="1076.60" y="108.80" font-size="11.45" text-anchor="middle" fill="#000" stroke="#000" stroke-width="0.15" textLength="92.66" lengthAdjust="spacingAndGlyphs" >Graduation Year:</text>
<line x1="1007.20" y1="120.60" x2="1030.70" y2="120.60" stroke="#94c4df" stroke-width="1.5" />
<line x1="1018.90" y1="115.80" x2="1018.90" y2="125.40" stroke="#94c4df" stroke-width="1.5" />
<text x="1038.10" y="124.60" font-size="11.45" text-anchor="start" fill="#000" stroke="#000" stroke-width="0.15" textLength="27.74" lengthAdjust="spacingAndGlyphs" >2013</text>
<line x1="1007.20" y1="136.00" x2="1030.70" y2="136.00" stroke="#7cb7da" stroke-width="1.6" />
<line x1="1018.90" y1="131.20" x2="1018.90" y2="140.80" stroke="#7cb7da" stroke-width="1.6" />
<text x="1038.10" y="140.00" font-size="11.45" text-anchor="start" fill="#000" stroke="#000" stroke-width="0.15" textLength="27.74" lengthAdjust="spacingAndGlyphs" >2014</text>
<line x1="1007.20" y1="151.40" x2="1030.70" y2="151.40" stroke="#66abd4" stroke-width="1.9" />
<line x1="1018.90" y1="146.60" x2="1018.90" y2="156.20" stroke="#66abd4" stroke-width="1.9" />
<text x="1038.10" y="155.40" font-size="11.45" text-anchor="start" fill="#000" stroke="#000" stroke-width="0.15" textLength="27.74" lengthAdjust="spacingAndGlyphs" >2015</text>
<line x1="1007.20" y1="166.80" x2="1030.70" y2="166.80" stroke="#539ecd" stroke-width="2.1" />
<line x1="1018.90" y1="162.00" x2="1018.90" y2="171.60" stroke="#539ecd" stroke-width="2.1" />
<text x="1038.10" y="170.80" font-size="11.45" text-anchor="start" fill="#000" stroke="#000" stroke-width="0.15" textLength="27.74" lengthAdjust="spacingAndGlyphs" >2016</text>
<line x1="1007.20" y1="182.20" x2="1030.70" y2="182.20" stroke="#4191c6" stroke-width="2.3" />
<line x1="1018.90" y1="177.40" x2="1018.90" y2="187.00" stroke="#4191c6" stroke-width="2.3" />
<text x="1038.10" y="186.20" font-size="11.45" text-anchor="start" fill="#000" stroke="#000" stroke-width="0.15" textLength="27.74" lengthAdjust="spacingAndGlyphs" >2017</text>
<line x1="1007.20" y1="197.60" x2="1030.70" y2="197.60" stroke="#3282be" stroke-width="2.6" />
<line x1="1018.90" y1="192.80" x2="1018.90" y2="202.40" stroke="#3282be" stroke-width="2.6" />
<text x="1038.10" y="201.60" font-size="11.45" text-anchor="start" fill="#000" stroke="#000" stroke-width="0.15" textLength="27.74" lengthAdjust="spacingAndGlyphs" >2018</text>
<line x1="1086.80" y1="120.60" x2="1110.30" y2="120.60" stroke="#1f6db1" stroke-width="2.3" />
<line x1="1098.50" y1="115.80" x2="1098.50" y2="125.40" stroke="#1f6db1" stroke-width="2.3" />
<text x="1118.10" y="124.60" font-size="11.45" text-anchor="start" fill="#000" stroke="#000" stroke-width="0.15" textLength="27.74" lengthAdjust="spacingAndGlyphs" >2019</text>
<line x1="1086.80" y1="136.00" x2="1110.30" y2="136.00" stroke="#0f56a0" stroke-width="2.4" />
<line x1="1098.50" y1="131.20" x2="1098.50" y2="140.80" stroke="#0f56a0" stroke-width="2.4" />
<text x="1118.10" y="140.00" font-size="11.45" text-anchor="start" fill="#000" stroke="#000" stroke-width="0.15" textLength="27.74" lengthAdjust="spacingAndGlyphs" >2020</text>
<line x1="1086.80" y1="151.40" x2="1110.30" y2="151.40" stroke="#fdb272" stroke-width="2.6" />
<line x1="1098.50" y1="146.60" x2="1098.50" y2="156.20" stroke="#fdb272" stroke-width="2.6" />
<text x="1118.10" y="155.40" font-size="11.45" text-anchor="start" fill="#000" stroke="#000" stroke-width="0.15" textLength="27.74" lengthAdjust="spacingAndGlyphs" >2021</text>
<line x1="1086.80" y1="166.80" x2="1110.30" y2="166.80" stroke="#e8590c" stroke-width="2.7" />
<line x1="1098.50" y1="162.00" x2="1098.50" y2="171.60" stroke="#e8590c" stroke-width="2.7" />
<text x="1118.10" y="170.80" font-size="11.45" text-anchor="start" fill="#000" stroke="#000" stroke-width="0.15" textLength="27.74" lengthAdjust="spacingAndGlyphs" >2022</text>
<line x1="1086.80" y1="182.20" x2="1110.30" y2="182.20" stroke="#7f2704" stroke-width="3.0" />
<line x1="1098.50" y1="177.40" x2="1098.50" y2="187.00" stroke="#7f2704" stroke-width="3.0" />
<text x="1118.10" y="186.20" font-size="11.45" text-anchor="start" fill="#000" stroke="#000" stroke-width="0.15" textLength="27.74" lengthAdjust="spacingAndGlyphs" >2023</text>
<text x="1076.60" y="312.00" font-size="11.45" text-anchor="middle" fill="#000" stroke="#000" stroke-width="0.15" textLength="92.66" lengthAdjust="spacingAndGlyphs" >Graduation Year:</text>
<line x1="1007.20" y1="323.80" x2="1030.70" y2="323.80" stroke="#94c4df" stroke-width="1.5" />
<line x1="1018.90" y1="319.00" x2="1018.90" y2="328.60" stroke="#94c4df" stroke-width="1.5" />
<text x="1038.10" y="327.80" font-size="11.45" text-anchor="start" fill="#000" stroke="#000" stroke-width="0.15" textLength="27.74" lengthAdjust="spacingAndGlyphs" >2013</text>
<line x1="1007.20" y1="339.20" x2="1030.70" y2="339.20" stroke="#7cb7da" stroke-width="1.6" />
<line x1="1018.90" y1="334.40" x2="1018.90" y2="344.00" stroke="#7cb7da" stroke-width="1.6" />
<text x="1038.10" y="343.20" font-size="11.45" text-anchor="start" fill="#000" stroke="#000" stroke-width="0.15" textLength="27.74" lengthAdjust="spacingAndGlyphs" >2014</text>
<line x1="1007.20" y1="354.60" x2="1030.70" y2="354.60" stroke="#66abd4" stroke-width="1.9" />
<line x1="1018.90" y1="349.80" x2="1018.90" y2="359.40" stroke="#66abd4" stroke-width="1.9" />
<text x="1038.10" y="358.60" font-size="11.45" text-anchor="start" fill="#000" stroke="#000" stroke-width="0.15" textLength="27.74" lengthAdjust="spacingAndGlyphs" >2015</text>
<line x1="1007.20" y1="370.00" x2="1030.70" y2="370.00" stroke="#539ecd" stroke-width="2.1" />
<line x1="1018.90" y1="365.20" x2="1018.90" y2="374.80" stroke="#539ecd" stroke-width="2.1" />
<text x="1038.10" y="374.00" font-size="11.45" text-anchor="start" fill="#000" stroke="#000" stroke-width="0.15" textLength="27.74" lengthAdjust="spacingAndGlyphs" >2016</text>
<line x1="1007.20" y1="385.40" x2="1030.70" y2="385.40" stroke="#4191c6" stroke-width="2.3" />
<line x1="1018.90" y1="380.60" x2="1018.90" y2="390.20" stroke="#4191c6" stroke-width="2.3" />
<text x="1038.10" y="389.40" font-size="11.45" text-anchor="start" fill="#000" stroke="#000" stroke-width="0.15" textLength="27.74" lengthAdjust="spacingAndGlyphs" >2017</text>
<line x1="1007.20" y1="400.80" x2="1030.70" y2="400.80" stroke="#3282be" stroke-width="2.6" />
<line x1="1018.90" y1="396.00" x2="1018.90" y2="405.60" stroke="#3282be" stroke-width="2.6" />
<text x="1038.10" y="404.80" font-size="11.45" text-anchor="start" fill="#000" stroke="#000" stroke-width="0.15" textLength="27.74" lengthAdjust="spacingAndGlyphs" >2018</text>
<line x1="1086.80" y1="323.80" x2="1110.30" y2="323.80" stroke="#1f6db1" stroke-width="2.3" />
<line x1="1098.50" y1="319.00" x2="1098.50" y2="328.60" stroke="#1f6db1" stroke-width="2.3" />
<text x="1118.10" y="327.80" font-size="11.45" text-anchor="start" fill="#000" stroke="#000" stroke-width="0.15" textLength="27.74" lengthAdjust="spacingAndGlyphs" >2019</text>
<line x1="1086.80" y1="339.20" x2="1110.30" y2="339.20" stroke="#0f56a0" stroke-width="2.4" />
<line x1="1098.50" y1="334.40" x2="1098.50" y2="344.00" stroke="#0f56a0" stroke-width="2.4" />
<text x="1118.10" y="343.20" font-size="11.45" text-anchor="start" fill="#000" stroke="#000" stroke-width="0.15" textLength="27.74" lengthAdjust="spacingAndGlyphs" >2020</text>
<line x1="1086.80" y1="354.60" x2="1110.30" y2="354.60" stroke="#fdb272" stroke-width="2.6" />
<line x1="1098.50" y1="349.80" x2="1098.50" y2="359.40" stroke="#fdb272" stroke-width="2.6" />
<text x="1118.10" y="358.60" font-size="11.45" text-anchor="start" fill="#000" stroke="#000" stroke-width="0.15" textLength="27.74" lengthAdjust="spacingAndGlyphs" >2021</text>
<line x1="1086.80" y1="370.00" x2="1110.30" y2="370.00" stroke="#e8590c" stroke-width="2.7" />
<line x1="1098.50" y1="365.20" x2="1098.50" y2="374.80" stroke="#e8590c" stroke-width="2.7" />
<text x="1118.10" y="374.00" font-size="11.45" text-anchor="start" fill="#000" stroke="#000" stroke-width="0.15" textLength="27.74" lengthAdjust="spacingAndGlyphs" >2022</text>
<line x1="1086.80" y1="385.40" x2="1110.30" y2="385.40" stroke="#7f2704" stroke-width="3.0" />
<line x1="1098.50" y1="380.60" x2="1098.50" y2="390.20" stroke="#7f2704" stroke-width="3.0" />
<text x="1118.10" y="389.40" font-size="11.45" text-anchor="start" fill="#000" stroke="#000" stroke-width="0.15" textLength="27.74" lengthAdjust="spacingAndGlyphs" >2023</text>
</svg></body></html>
